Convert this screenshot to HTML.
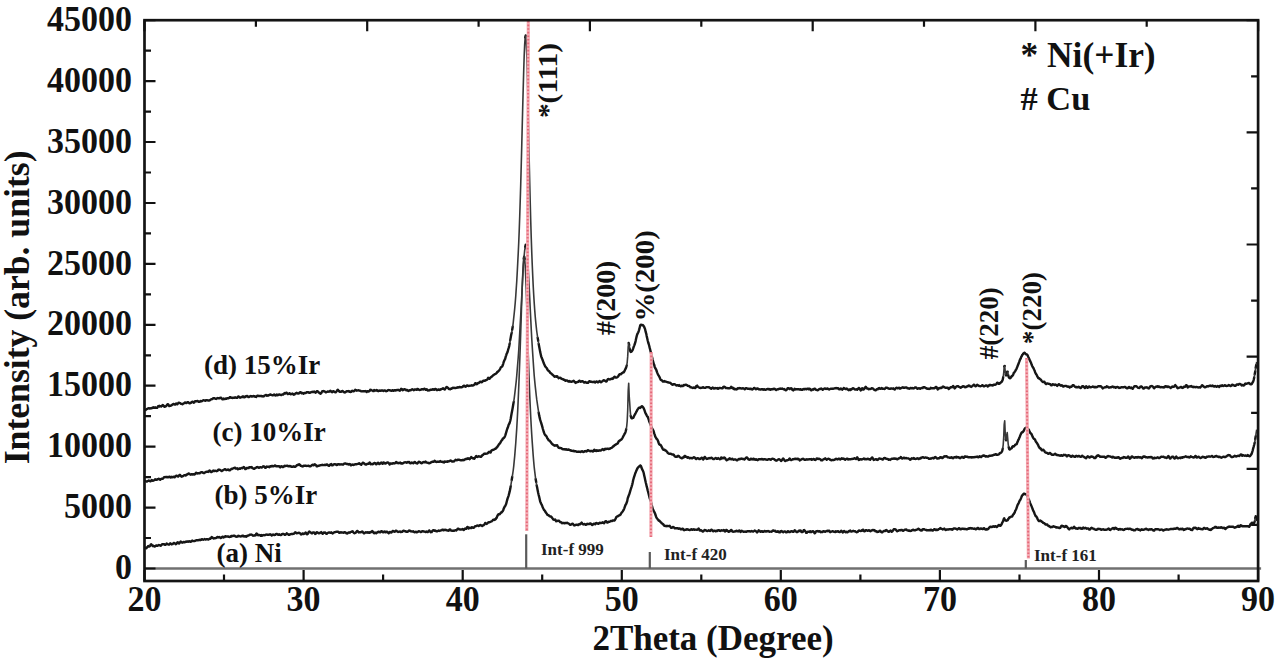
<!DOCTYPE html>
<html><head><meta charset="utf-8"><title>XRD</title>
<style>html,body{margin:0;padding:0;background:#fff;width:1280px;height:662px;overflow:hidden}svg{display:block}</style>
</head><body>
<svg width="1280" height="662" viewBox="0 0 1280 662">
<rect width="1280" height="662" fill="#fff"/>
<line x1="144.5" y1="568.5" x2="1261.1" y2="568.5" stroke="#707070" stroke-width="2.4"/>
<line x1="526.2" y1="534.3" x2="526.2" y2="568.5" stroke="#5a5a5a" stroke-width="2.2"/>
<line x1="649.8" y1="552.0" x2="649.8" y2="568.5" stroke="#5a5a5a" stroke-width="2.2"/>
<line x1="1025.8" y1="560.0" x2="1025.8" y2="568.5" stroke="#5a5a5a" stroke-width="2.2"/>
<path d="M145.7,547.7 146.2,548.3 146.7,547.8 147.2,547.1 147.7,546.6 148.2,546.0 148.7,546.5 149.2,546.5 149.7,546.4 150.2,545.6 150.7,544.6 151.2,544.3 151.7,545.0 152.2,545.3 152.7,546.0 153.2,545.7 153.7,546.2 154.2,546.2 154.7,546.6 155.2,546.1 155.7,545.8 156.2,545.4 156.7,545.7 157.2,545.9 157.7,545.7 158.2,545.5 158.7,545.0 159.2,545.1 159.7,545.3 160.2,545.4 160.7,545.7 161.2,545.3 161.7,544.7 162.2,544.3 162.7,544.3 163.2,544.1 163.7,544.2 164.2,544.1 164.7,544.7 165.2,544.8 165.7,544.6 166.2,544.3 166.7,543.5 167.2,543.8 167.7,544.0 168.2,544.5 168.7,544.6 169.2,544.5 169.7,544.1 170.2,543.3 170.7,543.5 171.2,544.0 171.7,544.4 172.2,544.0 172.7,544.0 173.2,543.6 173.7,543.0 174.2,542.9 174.7,543.3 175.2,543.6 175.7,544.2 176.2,543.9 176.7,543.5 177.2,542.6 177.7,542.3 178.2,542.7 178.7,543.4 179.2,543.6 179.7,542.5 180.2,542.1 180.7,541.4 181.2,542.3 181.7,542.2 182.2,542.7 182.7,542.5 183.2,541.9 183.7,541.9 184.2,542.3 184.7,542.4 185.2,541.9 185.7,541.7 186.2,541.8 186.7,541.9 187.2,541.5 187.7,541.4 188.2,541.7 188.7,541.6 189.2,541.3 189.7,541.4 190.2,541.7 190.7,541.9 191.2,541.4 191.7,541.0 192.2,540.5 192.7,541.0 193.2,541.1 193.7,541.1 194.2,541.0 194.7,541.0 195.2,540.9 195.7,540.5 196.2,540.2 196.7,540.4 197.2,540.3 197.7,540.3 198.2,540.3 198.7,540.0 199.2,540.0 199.7,539.7 200.2,540.2 200.7,539.7 201.2,539.9 201.7,539.2 202.2,539.3 202.7,539.4 203.2,539.8 203.7,539.5 204.2,539.3 204.7,539.0 205.2,539.5 205.7,539.5 206.2,539.4 206.7,539.1 207.2,539.1 207.7,539.4 208.2,539.5 208.7,539.5 209.2,539.0 209.7,538.5 210.2,538.8 210.7,538.3 211.2,537.8 211.7,537.0 212.2,537.4 212.7,537.9 213.2,538.2 213.7,538.5 214.2,538.4 214.7,538.2 215.2,538.0 215.7,538.2 216.2,538.0 216.7,537.5 217.2,536.9 217.7,537.1 218.2,537.5 218.7,537.3 219.2,537.0 219.7,537.3 220.2,537.6 220.7,538.0 221.2,537.9 221.7,537.5 222.2,536.8 222.7,536.6 223.2,536.8 223.7,537.4 224.2,536.9 224.7,537.0 225.2,536.3 225.7,536.3 226.2,536.5 226.7,536.4 227.2,536.5 227.7,536.4 228.2,536.7 228.7,536.9 229.2,536.6 229.7,537.0 230.2,536.8 230.7,536.8 231.2,535.9 231.7,536.3 232.2,535.9 232.7,536.1 233.2,535.8 233.7,535.6 234.2,535.6 234.7,535.9 235.2,536.3 235.7,536.6 236.2,536.5 236.7,536.8 237.2,536.5 237.7,536.5 238.2,535.8 238.7,536.0 239.2,536.0 239.7,536.3 240.2,536.4 240.7,536.5 241.2,536.3 241.7,536.2 242.2,535.8 242.7,535.7 243.2,535.8 243.7,536.4 244.2,536.5 244.7,536.4 245.2,536.1 245.7,536.3 246.2,536.7 246.7,536.4 247.2,535.6 247.7,535.7 248.2,535.6 248.7,535.3 249.2,535.1 249.7,534.8 250.2,534.7 250.7,534.6 251.2,534.5 251.7,534.7 252.2,535.0 252.7,535.6 253.2,535.7 253.7,535.5 254.2,535.3 254.7,535.6 255.2,535.4 255.7,535.3 256.2,533.8 256.7,533.5 257.2,534.0 257.7,534.9 258.2,535.3 258.7,535.0 259.2,535.0 259.7,535.1 260.2,535.3 260.7,535.7 261.2,535.0 261.7,535.8 262.2,535.6 262.7,535.3 263.2,535.2 263.7,535.0 264.2,535.2 264.7,535.1 265.2,535.1 265.7,534.6 266.2,534.7 266.7,534.5 267.2,534.6 267.7,534.8 268.2,534.7 268.7,534.8 269.2,534.6 269.7,534.5 270.2,534.2 270.7,534.8 271.2,534.9 271.7,535.5 272.2,534.7 272.7,534.8 273.2,534.5 273.7,534.7 274.2,535.1 274.7,534.9 275.2,534.8 275.7,534.3 276.2,533.9 276.7,533.9 277.2,534.1 277.7,534.5 278.2,534.9 278.7,534.6 279.2,534.2 279.7,534.9 280.2,534.9 280.7,535.1 281.2,534.9 281.7,534.3 282.2,534.2 282.7,533.9 283.2,533.9 283.7,534.0 284.2,534.3 284.7,534.7 285.2,534.8 285.7,534.4 286.2,534.1 286.7,533.3 287.2,533.7 287.7,534.0 288.2,534.4 288.7,534.8 289.2,534.6 289.7,534.7 290.2,534.2 290.7,534.2 291.2,534.0 291.7,533.9 292.2,534.0 292.7,534.0 293.2,533.7 293.7,533.9 294.2,533.4 294.7,533.2 295.2,532.3 295.7,532.7 296.2,532.6 296.7,533.3 297.2,533.1 297.7,533.1 298.2,533.0 298.7,532.7 299.2,532.9 299.7,532.9 300.2,533.5 300.7,534.1 301.2,534.5 301.7,534.3 302.2,533.6 302.7,533.4 303.2,533.6 303.7,534.0 304.2,533.7 304.7,533.6 305.2,532.9 305.7,532.5 306.2,533.2 306.7,534.1 307.2,534.3 307.7,534.0 308.2,533.1 308.7,532.1 309.2,531.6 309.7,531.9 310.2,532.2 310.7,532.5 311.2,532.9 311.7,533.4 312.2,533.4 312.7,532.6 313.2,532.4 313.7,532.4 314.2,532.7 314.7,532.7 315.2,534.0 315.7,533.6 316.2,533.3 316.7,532.3 317.2,532.6 317.7,532.5 318.2,533.1 318.7,533.2 319.2,533.2 319.7,533.1 320.2,532.6 320.7,532.5 321.2,532.0 321.7,533.0 322.2,533.3 322.7,533.8 323.2,533.1 323.7,532.4 324.2,532.8 324.7,532.4 325.2,532.5 325.7,533.0 326.2,533.7 326.7,533.9 327.2,533.3 327.7,533.0 328.2,532.7 328.7,532.5 329.2,532.4 329.7,532.6 330.2,532.7 330.7,532.8 331.2,532.3 331.7,532.9 332.2,533.1 332.7,533.4 333.2,532.8 333.7,532.6 334.2,532.4 334.7,532.2 335.2,532.1 335.7,531.9 336.2,531.9 336.7,531.8 337.2,531.8 337.7,531.7 338.2,531.9 338.7,532.0 339.2,532.7 339.7,532.7 340.2,532.6 340.7,532.3 341.2,532.6 341.7,532.5 342.2,532.5 342.7,532.6 343.2,532.6 343.7,532.7 344.2,532.3 344.7,532.2 345.2,532.4 345.7,532.6 346.2,533.1 346.7,533.4 347.2,533.5 347.7,533.2 348.2,532.6 348.7,532.5 349.2,532.5 349.7,532.7 350.2,532.3 350.7,532.0 351.2,531.8 351.7,531.9 352.2,531.6 352.7,531.3 353.2,532.2 353.7,532.7 354.2,533.1 354.7,533.2 355.2,533.0 355.7,532.7 356.2,532.1 356.7,531.4 357.2,530.9 357.7,531.1 358.2,532.0 358.7,532.5 359.2,532.4 359.7,532.2 360.2,532.4 360.7,532.3 361.2,532.1 361.7,531.7 362.2,531.5 362.7,531.8 363.2,532.6 363.7,533.3 364.2,533.4 364.7,532.8 365.2,532.6 365.7,532.3 366.2,532.5 366.7,532.5 367.2,532.6 367.7,532.3 368.2,532.7 368.7,532.4 369.2,532.3 369.7,532.7 370.2,532.1 370.7,532.2 371.2,531.7 371.7,531.9 372.2,531.0 372.7,531.6 373.2,531.8 373.7,533.0 374.2,533.3 374.7,533.0 375.2,532.6 375.7,533.0 376.2,533.2 376.7,532.8 377.2,532.3 377.7,532.3 378.2,531.6 378.7,531.8 379.2,531.9 379.7,532.2 380.2,532.3 380.7,531.8 381.2,531.2 381.7,531.1 382.2,531.7 382.7,532.2 383.2,532.4 383.7,532.2 384.2,531.6 384.7,531.9 385.2,531.8 385.7,532.3 386.2,531.8 386.7,531.8 387.2,531.7 387.7,532.4 388.2,532.7 388.7,533.3 389.2,532.7 389.7,532.0 390.2,532.0 390.7,532.4 391.2,532.6 391.7,532.2 392.2,531.6 392.7,531.0 393.2,530.9 393.7,531.5 394.2,531.6 394.7,531.7 395.2,531.3 395.7,530.7 396.2,530.6 396.7,531.2 397.2,531.4 397.7,531.7 398.2,532.0 398.7,531.8 399.2,531.6 399.7,531.6 400.2,531.4 400.7,532.1 401.2,532.0 401.7,531.8 402.2,531.8 402.7,531.1 403.2,530.9 403.7,530.7 404.2,531.0 404.7,531.0 405.2,531.4 405.7,531.3 406.2,531.7 406.7,531.8 407.2,531.9 407.7,531.7 408.2,531.3 408.7,530.8 409.2,530.4 409.7,530.8 410.2,530.8 410.7,531.3 411.2,531.3 411.7,531.5 412.2,531.4 412.7,531.5 413.2,531.3 413.7,531.7 414.2,532.1 414.7,532.2 415.2,532.1 415.7,531.8 416.2,531.8 416.7,532.3 417.2,532.1 417.7,531.9 418.2,531.7 418.7,531.2 419.2,531.2 419.7,531.5 420.2,531.7 420.7,532.1 421.2,531.9 421.7,531.7 422.2,531.1 422.7,531.2 423.2,531.2 423.7,531.5 424.2,531.5 424.7,531.7 425.2,531.9 425.7,532.1 426.2,531.6 426.7,531.5 427.2,531.8 427.7,532.1 428.2,531.6 428.7,531.3 429.2,530.4 429.7,531.1 430.2,531.3 430.7,532.2 431.2,531.9 431.7,532.0 432.2,531.2 432.7,530.7 433.2,530.3 433.7,530.2 434.2,530.4 434.7,530.8 435.2,530.5 435.7,530.9 436.2,531.2 436.7,531.3 437.2,531.3 437.7,530.9 438.2,530.8 438.7,530.4 439.2,531.0 439.7,530.8 440.2,530.6 440.7,530.4 441.2,530.4 441.7,530.4 442.2,529.7 442.7,529.6 443.2,529.6 443.7,530.3 444.2,530.0 444.7,530.1 445.2,529.8 445.7,529.9 446.2,530.0 446.7,530.1 447.2,530.5 447.7,530.5 448.2,530.4 448.7,530.7 449.2,529.8 449.7,529.5 450.2,529.4 450.7,530.4 451.2,530.5 451.7,530.7 452.2,530.7 452.7,530.6 453.2,530.8 453.7,530.9 454.2,530.6 454.7,530.5 455.2,530.3 455.7,530.3 456.2,530.5 456.7,530.1 457.2,529.5 457.7,528.6 458.2,528.6 458.7,528.8 459.2,529.3 459.7,529.5 460.2,529.5 460.7,529.4 461.2,529.5 461.7,529.4 462.2,529.4 462.7,529.0 463.2,529.7 463.7,530.0 464.2,529.7 464.7,528.9 465.2,528.5 465.7,528.8 466.2,528.9 466.7,528.2 467.2,527.1 467.7,526.9 468.2,527.8 468.7,528.6 469.2,527.9 469.7,527.8 470.2,527.9 470.7,528.0 471.2,528.0 471.7,527.2 472.2,527.4 472.7,527.4 473.2,527.9 473.7,527.8 474.2,527.5 474.7,526.6 475.2,526.2 475.7,526.1 476.2,526.1 476.7,525.9 477.2,525.5 477.7,525.6 478.2,525.6 478.7,526.0 479.2,525.7 479.7,525.3 480.2,525.3 480.7,524.9 481.2,525.5 481.7,525.6 482.2,526.0 482.7,525.6 483.2,525.1 483.7,525.2 484.2,524.6 484.7,524.1 485.2,522.9 485.7,523.3 486.2,523.4 486.7,523.9 487.2,523.3 487.7,523.1 488.2,522.5 488.7,522.1 489.2,522.1 489.7,522.2 490.2,522.0 490.7,521.7 491.2,521.5 491.7,521.3 492.2,520.9 492.7,520.3 493.2,519.6 493.7,519.7 494.2,519.7 494.7,519.9 495.2,519.0 495.7,519.1 496.2,518.1 496.7,517.8 497.2,516.2 497.7,515.5 498.2,514.4 498.7,514.3 499.2,514.3 499.7,514.2 500.2,513.5 500.7,513.1 501.2,512.3 501.7,512.4 502.2,511.6 502.7,511.3 503.2,510.3 503.7,508.6 504.2,507.7 504.7,506.5 505.2,506.1 505.7,504.9 506.2,503.8 506.7,501.7 507.2,499.9 507.7,498.2 508.2,496.8 508.7,495.3 509.2,493.4 509.7,491.4 510.2,489.1 510.7,486.2M511.7,480.0 512.2,477.0M523.7,258.7 524.2,256.6 524.7,258.9M535.7,479.3 536.2,482.1M536.7,485.4 537.2,487.8 537.7,490.4 538.2,492.9 538.7,495.1 539.2,497.0 539.7,499.3 540.2,501.4 540.7,502.8 541.2,503.8 541.7,504.7 542.2,505.9 542.7,507.2 543.2,508.3 543.7,509.3 544.2,510.2 544.7,510.5 545.2,511.5 545.7,512.3 546.2,513.0 546.7,513.6 547.2,514.7 547.7,514.9 548.2,515.2 548.7,515.4 549.2,515.9 549.7,516.2 550.2,516.5 550.7,516.4 551.2,516.6 551.7,517.3 552.2,518.0 552.7,518.6 553.2,519.4 553.7,519.7 554.2,519.9 554.7,519.8 555.2,519.6 555.7,520.5 556.2,521.2 556.7,521.1 557.2,521.0 557.7,520.7 558.2,520.8 558.7,520.7 559.2,520.9 559.7,521.7 560.2,522.2 560.7,522.2 561.2,522.3 561.7,522.5 562.2,523.2 562.7,523.0 563.2,522.9 563.7,522.9 564.2,523.1 564.7,523.4 565.2,523.0 565.7,522.9 566.2,523.1 566.7,523.0 567.2,522.8 567.7,523.1 568.2,523.3 568.7,523.5 569.2,524.0 569.7,524.4 570.2,524.9 570.7,524.7 571.2,524.6 571.7,524.0 572.2,523.9 572.7,523.7 573.2,524.1 573.7,524.9 574.2,525.5 574.7,525.3 575.2,525.1 575.7,524.9 576.2,524.8 576.7,524.6 577.2,524.7 577.7,525.0 578.2,525.1 578.7,524.6 579.2,524.1 579.7,524.4 580.2,524.3 580.7,523.7 581.2,523.2 581.7,522.6 582.2,523.4 582.7,524.0 583.2,524.5 583.7,524.3 584.2,524.0 584.7,524.1 585.2,524.4 585.7,524.8 586.2,524.7 586.7,524.5 587.2,523.8 587.7,524.1 588.2,524.1 588.7,524.0 589.2,524.0 589.7,523.6 590.2,523.4 590.7,523.5 591.2,524.2 591.7,524.7 592.2,525.0 592.7,524.7 593.2,524.3 593.7,523.6 594.2,523.8 594.7,523.9 595.2,524.3 595.7,523.4 596.2,523.1 596.7,523.0 597.2,523.6 597.7,523.5 598.2,523.8 598.7,523.3 599.2,523.4 599.7,522.7 600.2,522.9 600.7,523.0 601.2,523.0 601.7,522.7 602.2,522.9 602.7,522.3 603.2,522.6 603.7,523.1 604.2,523.2 604.7,522.4 605.2,521.5 605.7,521.1 606.2,521.4 606.7,521.9 607.2,522.6 607.7,522.5 608.2,522.2 608.7,521.7 609.2,521.8 609.7,521.7 610.2,521.5 610.7,521.0 611.2,520.9 611.7,521.1 612.2,521.0 612.7,520.5 613.2,520.4 613.7,520.5 614.2,520.6 614.7,520.3 615.2,519.4 615.7,518.6 616.2,517.3 616.7,516.6 617.2,516.5 617.7,516.4 618.2,515.9 618.7,515.7 619.2,515.4 619.7,515.2 620.2,514.8 620.7,514.3 621.2,513.3 621.7,512.5 622.2,512.0 622.7,511.5 623.2,510.5 623.7,509.8 624.2,508.6 624.7,507.1 625.2,505.8 625.7,504.5 626.2,503.9 626.7,502.5 627.2,501.1 627.7,498.4 628.2,497.0 628.7,495.6 629.2,494.5 629.7,492.8 630.2,491.1 630.7,489.5 631.2,487.8 631.7,486.3 632.2,484.6 632.7,482.5 633.2,480.0 633.7,478.2 634.2,476.7 634.7,475.1 635.2,473.5 635.7,472.3 636.2,471.0 636.7,469.9 637.2,468.9 637.7,467.8 638.2,467.3 638.7,466.8 639.2,466.4 639.7,466.1 640.2,465.4 640.7,465.7 641.2,466.6 641.7,468.3 642.2,469.4 642.7,470.3 643.2,471.4 643.7,473.0 644.2,475.4 644.7,477.6 645.2,479.9 645.7,482.2 646.2,484.2 646.7,486.4 647.2,488.2 647.7,490.5 648.2,492.2 648.7,494.1 649.2,496.1 649.7,498.3 650.2,499.4 650.7,501.0 651.2,502.8 651.7,505.0 652.2,506.8 652.7,508.8 653.2,509.8 653.7,511.0 654.2,511.7 654.7,512.7 655.2,514.0 655.7,515.5 656.2,516.9 656.7,518.0 657.2,518.5 657.7,519.4 658.2,519.7 658.7,520.6 659.2,520.5 659.7,521.2 660.2,521.7 660.7,522.2 661.2,522.5 661.7,523.3 662.2,523.4 662.7,524.1 663.2,524.2 663.7,525.1 664.2,525.6 664.7,525.9 665.2,526.0 665.7,525.9 666.2,526.0 666.7,526.2 667.2,525.9 667.7,526.0 668.2,526.1 668.7,526.1 669.2,526.0 669.7,525.8 670.2,526.6 670.7,527.3 671.2,527.9 671.7,527.8 672.2,527.3 672.7,527.1 673.2,526.9 673.7,527.3 674.2,527.6 674.7,528.3 675.2,528.3 675.7,528.4 676.2,528.1 676.7,528.1 677.2,528.3 677.7,528.3 678.2,528.6 678.7,528.7 679.2,528.4 679.7,528.5 680.2,528.6 680.7,529.4 681.2,529.4 681.7,529.4 682.2,528.8 682.7,528.7 683.2,529.2 683.7,529.9 684.2,530.2 684.7,530.0 685.2,529.7 685.7,529.6 686.2,529.7 686.7,529.2 687.2,529.5 687.7,529.2 688.2,529.6 688.7,529.8 689.2,530.0 689.7,529.9 690.2,530.0 690.7,529.5 691.2,529.4 691.7,529.3 692.2,529.7 692.7,529.8 693.2,529.5 693.7,529.2 694.2,529.6 694.7,529.8 695.2,529.6 695.7,529.6 696.2,529.6 696.7,529.7 697.2,529.8 697.7,529.5 698.2,528.9 698.7,528.6 699.2,529.4 699.7,530.4 700.2,530.6 700.7,530.3 701.2,530.1 701.7,530.8 702.2,531.1 702.7,531.5 703.2,531.5 703.7,530.9 704.2,530.4 704.7,530.0 705.2,530.1 705.7,530.1 706.2,530.7 706.7,530.7 707.2,531.1 707.7,530.6 708.2,530.6 708.7,530.3 709.2,530.7 709.7,530.6 710.2,530.9 710.7,530.4 711.2,529.7 711.7,529.7 712.2,530.4 712.7,530.8 713.2,531.2 713.7,530.6 714.2,530.6 714.7,530.7 715.2,531.1 715.7,531.3 716.2,530.9 716.7,530.6 717.2,531.0 717.7,530.7 718.2,530.2 718.7,530.1 719.2,530.4 719.7,530.8 720.2,531.0 720.7,530.7 721.2,530.4 721.7,530.3 722.2,530.6 722.7,530.6 723.2,530.5 723.7,529.9 724.2,530.4 724.7,531.2 725.2,531.6 725.7,531.0 726.2,530.0 726.7,529.9 727.2,530.6 727.7,531.1 728.2,531.4 728.7,531.8 729.2,531.3 729.7,531.5 730.2,530.9 730.7,530.4 731.2,529.9 731.7,530.4 732.2,531.4 732.7,531.6 733.2,531.7 733.7,531.6 734.2,531.5 734.7,531.6 735.2,531.4 735.7,531.1 736.2,530.9 736.7,530.8 737.2,531.2 737.7,531.3 738.2,531.5 738.7,530.9 739.2,530.5 739.7,530.6 740.2,531.6 740.7,532.0 741.2,531.5 741.7,530.7 742.2,531.1 742.7,531.1 743.2,531.7 743.7,531.7 744.2,531.7 744.7,531.6 745.2,531.5 745.7,531.8 746.2,531.6 746.7,531.7 747.2,531.2 747.7,531.3 748.2,531.1 748.7,531.3 749.2,531.1 749.7,531.2 750.2,531.6 750.7,531.5 751.2,531.3 751.7,531.0 752.2,531.3 752.7,531.5 753.2,531.6 753.7,531.1 754.2,531.1 754.7,530.5 755.2,530.9 755.7,530.9 756.2,531.6 756.7,531.8 757.2,532.4 757.7,531.7 758.2,531.2 758.7,530.3 759.2,530.5 759.7,531.3 760.2,531.3 760.7,531.7 761.2,531.3 761.7,531.5 762.2,531.3 762.7,531.7 763.2,531.8 763.7,531.7 764.2,531.1 764.7,530.9 765.2,531.4 765.7,531.5 766.2,531.6 766.7,531.2 767.2,531.4 767.7,531.1 768.2,531.0 768.7,531.2 769.2,531.7 769.7,531.7 770.2,531.6 770.7,531.6 771.2,531.6 771.7,531.7 772.2,531.2 772.7,530.6 773.2,530.4 773.7,530.7 774.2,530.9 774.7,531.1 775.2,530.7 775.7,531.5 776.2,531.9 776.7,531.8 777.2,531.9 777.7,531.3 778.2,531.4 778.7,531.6 779.2,532.4 779.7,532.4 780.2,532.1 780.7,531.2 781.2,531.1 781.7,531.0 782.2,531.6 782.7,531.9 783.2,532.2 783.7,531.8 784.2,531.5 784.7,531.4 785.2,531.4 785.7,532.2 786.2,532.3 786.7,532.4 787.2,531.9 787.7,531.2 788.2,531.3 788.7,531.8 789.2,532.1 789.7,532.1 790.2,531.8 790.7,531.7 791.2,531.1 791.7,531.1 792.2,531.1 792.7,531.8 793.2,531.9 793.7,531.6 794.2,530.9 794.7,530.2 795.2,530.6 795.7,531.2 796.2,531.8 796.7,532.1 797.2,532.1 797.7,531.6 798.2,531.5 798.7,530.7 799.2,531.1 799.7,530.4 800.2,530.9 800.7,530.6 801.2,531.6 801.7,532.1 802.2,532.1 802.7,531.9 803.2,531.3 803.7,530.2 804.2,530.0 804.7,530.5 805.2,531.0 805.7,531.9 806.2,532.9 806.7,532.9 807.2,532.4 807.7,531.7 808.2,531.7 808.7,531.8 809.2,531.7 809.7,532.0 810.2,531.3 810.7,532.0 811.2,531.7 811.7,532.1 812.2,531.5 812.7,531.2 813.2,531.1 813.7,531.8 814.2,532.5 814.7,533.3 815.2,532.8 815.7,531.9 816.2,531.2 816.7,531.2 817.2,531.2 817.7,531.0 818.2,531.4 818.7,531.6 819.2,531.3 819.7,531.2 820.2,531.7 820.7,532.2 821.2,532.0 821.7,532.0 822.2,532.1 822.7,531.8 823.2,531.3 823.7,531.2 824.2,531.4 824.7,531.6 825.2,531.8 825.7,531.4 826.2,531.3 826.7,531.0 827.2,530.7 827.7,531.2 828.2,531.0 828.7,530.7 829.2,530.8 829.7,531.7 830.2,532.2 830.7,532.0 831.2,531.7 831.7,531.5 832.2,531.3 832.7,531.2 833.2,531.6 833.7,531.4 834.2,532.0 834.7,531.8 835.2,532.0 835.7,531.2 836.2,531.8 836.7,531.5 837.2,531.6 837.7,531.1 838.2,531.2 838.7,531.8 839.2,532.0 839.7,532.1 840.2,531.9 840.7,531.5 841.2,530.8 841.7,531.2 842.2,531.6 842.7,532.4 843.2,532.1 843.7,531.3 844.2,530.9 844.7,531.6 845.2,531.8 845.7,532.2 846.2,531.7 846.7,532.2 847.2,532.1 847.7,532.2 848.2,531.6 848.7,531.4 849.2,530.9 849.7,531.2 850.2,530.5 850.7,531.4 851.2,531.5 851.7,531.5 852.2,531.4 852.7,531.0 853.2,530.8 853.7,531.0 854.2,531.3 854.7,531.3 855.2,531.3 855.7,531.7 856.2,532.0 856.7,532.3 857.2,532.0 857.7,531.9 858.2,531.0 858.7,530.7 859.2,530.4 859.7,530.8 860.2,530.9 860.7,531.0 861.2,530.6 861.7,530.8 862.2,529.9 862.7,529.9 863.2,529.7 863.7,531.0 864.2,531.3 864.7,531.2 865.2,530.9 865.7,530.2 866.2,530.1 866.7,530.2 867.2,530.8 867.7,530.7 868.2,530.6 868.7,530.3 869.2,530.3 869.7,530.9 870.2,531.1 870.7,531.2 871.2,530.7 871.7,530.5 872.2,530.0 872.7,530.1 873.2,530.3 873.7,530.0 874.2,530.1 874.7,530.4 875.2,531.2 875.7,531.0 876.2,531.3 876.7,531.4 877.2,532.1 877.7,531.7 878.2,531.8 878.7,531.6 879.2,531.2 879.7,530.8 880.2,530.6 880.7,531.3 881.2,532.1 881.7,532.2 882.2,532.4 882.7,531.8 883.2,531.5 883.7,530.9 884.2,531.0 884.7,531.1 885.2,531.0 885.7,530.3 886.2,530.0 886.7,530.3 887.2,530.8 887.7,531.2 888.2,531.7 888.7,531.4 889.2,531.7 889.7,531.1 890.2,530.8 890.7,530.5 891.2,531.4 891.7,531.8 892.2,531.5 892.7,530.9 893.2,530.1 893.7,529.3 894.2,529.3 894.7,529.1 895.2,529.3 895.7,529.6 896.2,530.2 896.7,530.8 897.2,531.2 897.7,530.9 898.2,530.8 898.7,530.4 899.2,530.3 899.7,530.4 900.2,530.2 900.7,530.2 901.2,529.9 901.7,529.9 902.2,530.2 902.7,530.8 903.2,530.7 903.7,530.3 904.2,530.1 904.7,529.8 905.2,529.7 905.7,529.6 906.2,529.4 906.7,529.9 907.2,530.3 907.7,530.5 908.2,530.4 908.7,530.7 909.2,530.4 909.7,530.9 910.2,531.0 910.7,530.9 911.2,530.9 911.7,530.2 912.2,530.2 912.7,529.9 913.2,529.8 913.7,529.9 914.2,530.3 914.7,530.4 915.2,530.4 915.7,530.0 916.2,529.9 916.7,529.8 917.2,529.5 917.7,529.3 918.2,528.7 918.7,528.9 919.2,529.3 919.7,529.7 920.2,530.2 920.7,530.1 921.2,530.6 921.7,529.9 922.2,530.3 922.7,529.4 923.2,529.2 923.7,529.1 924.2,529.2 924.7,529.5 925.2,529.8 925.7,530.0 926.2,530.2 926.7,529.9 927.2,530.3 927.7,530.2 928.2,530.2 928.7,530.4 929.2,530.2 929.7,530.4 930.2,529.8 930.7,530.2 931.2,529.8 931.7,530.2 932.2,530.1 932.7,530.6 933.2,530.3 933.7,529.9 934.2,529.2 934.7,529.1 935.2,529.7 935.7,530.1 936.2,530.0 936.7,529.5 937.2,530.1 937.7,529.7 938.2,529.8 938.7,529.2 939.2,529.0 939.7,528.8 940.2,528.1 940.7,528.4 941.2,528.6 941.7,528.9 942.2,528.9 942.7,529.5 943.2,529.2 943.7,529.0 944.2,528.6 944.7,529.2 945.2,529.7 945.7,530.0 946.2,529.9 946.7,529.5 947.2,529.4 947.7,529.5 948.2,529.6 948.7,529.4 949.2,529.3 949.7,529.3 950.2,529.3 950.7,529.3 951.2,529.3 951.7,529.3 952.2,529.7 952.7,529.4 953.2,528.8 953.7,528.5 954.2,528.4 954.7,528.5 955.2,528.5 955.7,528.8 956.2,528.9 956.7,528.9 957.2,529.5 957.7,529.1 958.2,528.9 958.7,528.1 959.2,528.2 959.7,528.5 960.2,529.2 960.7,529.3 961.2,529.1 961.7,528.8 962.2,528.8 962.7,528.6 963.2,528.8 963.7,529.0 964.2,528.8 964.7,529.1 965.2,528.9 965.7,529.0 966.2,529.1 966.7,529.4 967.2,529.3 967.7,529.0 968.2,528.4 968.7,528.7 969.2,528.7 969.7,528.2 970.2,528.0 970.7,528.2 971.2,528.6 971.7,528.3 972.2,528.6 972.7,528.5 973.2,528.7 973.7,528.7 974.2,528.5 974.7,528.6 975.2,528.9 975.7,529.4 976.2,529.2 976.7,528.9 977.2,528.1 977.7,528.0 978.2,528.0 978.7,528.8 979.2,529.1 979.7,529.1 980.2,528.8 980.7,528.5 981.2,528.4 981.7,528.8 982.2,528.8 982.7,529.1 983.2,528.9 983.7,528.2 984.2,528.3 984.7,529.0 985.2,529.4 985.7,529.6 986.2,529.5 986.7,529.1 987.2,529.5 987.7,529.3 988.2,529.0 988.7,528.3 989.2,527.6 989.7,527.1 990.2,526.7 990.7,526.9 991.2,527.0 991.7,527.1 992.2,526.9 992.7,526.4 993.2,526.6 993.7,526.3 994.2,526.7 994.7,526.7 995.2,526.2 995.7,526.3 996.2,526.6 996.7,527.1 997.2,526.7 997.7,526.2 998.2,525.7 998.7,525.0 999.2,525.0 999.7,525.6 1000.2,525.8 1000.7,525.6 1001.2,524.8 1001.7,524.0 1002.2,522.7 1002.7,521.9 1003.2,520.9 1003.7,519.2 1004.2,518.3 1004.7,519.6 1005.2,520.1 1005.7,520.6 1006.2,520.6 1006.7,520.7 1007.2,520.2 1007.7,520.2 1008.2,519.0 1008.7,518.6 1009.2,517.6 1009.7,517.3 1010.2,517.3 1010.7,516.8 1011.2,516.6 1011.7,516.5 1012.2,516.5 1012.7,515.3 1013.2,514.5 1013.7,514.1 1014.2,513.1 1014.7,512.6 1015.2,510.9 1015.7,510.0 1016.2,509.0 1016.7,507.6 1017.2,506.1 1017.7,504.7 1018.2,504.0 1018.7,503.0 1019.2,501.8 1019.7,500.6 1020.2,500.0 1020.7,498.9 1021.2,497.7 1021.7,496.4 1022.2,495.4 1022.7,495.0 1023.2,494.3 1023.7,493.8 1024.2,493.7 1024.7,493.9 1025.2,494.2 1025.7,494.2 1026.2,494.3 1026.7,494.7 1027.2,495.8 1027.7,496.9 1028.2,498.2 1028.7,499.2 1029.2,500.3 1029.7,501.7 1030.2,503.1 1030.7,504.3 1031.2,505.4 1031.7,506.6 1032.2,507.9 1032.7,509.3 1033.2,510.6 1033.7,511.5 1034.2,512.6 1034.7,514.0 1035.2,515.1 1035.7,516.1 1036.2,516.3 1036.7,517.3 1037.2,518.0 1037.7,519.3 1038.2,520.1 1038.7,521.0 1039.2,520.7 1039.7,521.0 1040.2,520.4 1040.7,521.0 1041.2,520.9 1041.7,521.6 1042.2,521.9 1042.7,522.3 1043.2,522.9 1043.7,523.0 1044.2,523.2 1044.7,523.7 1045.2,524.2 1045.7,524.6 1046.2,524.5 1046.7,524.4 1047.2,524.5 1047.7,525.3 1048.2,525.7 1048.7,526.0 1049.2,526.0 1049.7,526.7 1050.2,526.9 1050.7,527.3 1051.2,526.9 1051.7,527.1 1052.2,527.1 1052.7,526.7 1053.2,526.4 1053.7,526.3 1054.2,526.5 1054.7,526.8 1055.2,527.0 1055.7,526.9 1056.2,527.6 1056.7,527.2 1057.2,527.6 1057.7,527.4 1058.2,527.6 1058.7,527.7 1059.2,528.0 1059.7,528.0 1060.2,527.9 1060.7,526.9 1061.2,526.1 1061.7,525.8 1062.2,525.8 1062.7,526.4 1063.2,526.2 1063.7,526.4 1064.2,527.0 1064.7,527.0 1065.2,526.8 1065.7,525.9 1066.2,526.1 1066.7,526.3 1067.2,527.2 1067.7,527.7 1068.2,528.5 1068.7,529.0 1069.2,529.5 1069.7,528.7 1070.2,528.5 1070.7,528.2 1071.2,527.9 1071.7,527.8 1072.2,528.3 1072.7,528.4 1073.2,528.0 1073.7,527.2 1074.2,526.8 1074.7,527.4 1075.2,528.2 1075.7,528.5 1076.2,528.2 1076.7,528.5 1077.2,528.8 1077.7,528.8 1078.2,528.1 1078.7,527.9 1079.2,528.0 1079.7,527.9 1080.2,528.4 1080.7,527.9 1081.2,528.5 1081.7,528.8 1082.2,528.7 1082.7,528.4 1083.2,527.6 1083.7,528.1 1084.2,528.2 1084.7,528.3 1085.2,527.8 1085.7,528.0 1086.2,528.1 1086.7,528.7 1087.2,528.4 1087.7,528.4 1088.2,528.5 1088.7,528.9 1089.2,529.6 1089.7,529.6 1090.2,529.1 1090.7,528.4 1091.2,528.0 1091.7,527.7 1092.2,528.3 1092.7,528.5 1093.2,528.6 1093.7,528.6 1094.2,529.2 1094.7,529.4 1095.2,529.5 1095.7,529.8 1096.2,529.6 1096.7,529.8 1097.2,529.1 1097.7,529.0 1098.2,528.7 1098.7,529.0 1099.2,528.9 1099.7,529.0 1100.2,529.0 1100.7,529.2 1101.2,529.9 1101.7,529.8 1102.2,529.5 1102.7,529.4 1103.2,529.3 1103.7,529.4 1104.2,529.9 1104.7,529.9 1105.2,529.8 1105.7,529.7 1106.2,529.7 1106.7,529.6 1107.2,529.4 1107.7,529.1 1108.2,528.8 1108.7,528.5 1109.2,529.1 1109.7,529.8 1110.2,530.0 1110.7,529.6 1111.2,529.1 1111.7,529.1 1112.2,528.5 1112.7,528.1 1113.2,528.0 1113.7,528.2 1114.2,529.1 1114.7,528.7 1115.2,527.8 1115.7,527.9 1116.2,528.1 1116.7,528.9 1117.2,528.8 1117.7,529.1 1118.2,529.5 1118.7,529.8 1119.2,529.2 1119.7,529.1 1120.2,528.9 1120.7,529.5 1121.2,529.4 1121.7,529.4 1122.2,529.2 1122.7,529.8 1123.2,529.7 1123.7,530.0 1124.2,529.8 1124.7,529.2 1125.2,529.0 1125.7,529.0 1126.2,528.9 1126.7,528.9 1127.2,528.9 1127.7,528.6 1128.2,528.9 1128.7,529.1 1129.2,528.9 1129.7,528.7 1130.2,528.6 1130.7,529.0 1131.2,529.4 1131.7,529.7 1132.2,529.9 1132.7,529.8 1133.2,529.8 1133.7,530.3 1134.2,530.4 1134.7,530.4 1135.2,530.1 1135.7,529.5 1136.2,529.2 1136.7,529.4 1137.2,528.9 1137.7,529.2 1138.2,529.7 1138.7,529.5 1139.2,529.9 1139.7,529.7 1140.2,530.4 1140.7,529.9 1141.2,529.8 1141.7,529.3 1142.2,529.7 1142.7,529.7 1143.2,529.6 1143.7,529.7 1144.2,529.5 1144.7,529.5 1145.2,529.0 1145.7,528.9 1146.2,528.8 1146.7,529.2 1147.2,529.3 1147.7,529.5 1148.2,530.0 1148.7,529.6 1149.2,529.5 1149.7,529.3 1150.2,529.6 1150.7,529.4 1151.2,529.2 1151.7,529.3 1152.2,529.7 1152.7,529.9 1153.2,530.5 1153.7,530.5 1154.2,530.6 1154.7,529.7 1155.2,529.4 1155.7,529.2 1156.2,529.2 1156.7,529.4 1157.2,529.3 1157.7,529.4 1158.2,529.1 1158.7,529.5 1159.2,529.7 1159.7,530.0 1160.2,529.7 1160.7,529.7 1161.2,529.5 1161.7,529.6 1162.2,529.7 1162.7,530.2 1163.2,530.5 1163.7,530.6 1164.2,530.0 1164.7,529.9 1165.2,529.6 1165.7,529.6 1166.2,529.3 1166.7,529.4 1167.2,529.5 1167.7,529.5 1168.2,529.5 1168.7,529.7 1169.2,529.5 1169.7,529.3 1170.2,529.1 1170.7,529.0 1171.2,529.0 1171.7,529.1 1172.2,529.0 1172.7,528.9 1173.2,529.1 1173.7,528.8 1174.2,528.5 1174.7,528.7 1175.2,528.6 1175.7,528.8 1176.2,528.3 1176.7,528.2 1177.2,527.9 1177.7,528.1 1178.2,528.7 1178.7,529.0 1179.2,529.5 1179.7,528.9 1180.2,529.0 1180.7,528.8 1181.2,529.3 1181.7,529.0 1182.2,528.6 1182.7,528.9 1183.2,529.3 1183.7,530.0 1184.2,529.8 1184.7,529.3 1185.2,529.3 1185.7,529.2 1186.2,528.9 1186.7,528.6 1187.2,528.6 1187.7,528.5 1188.2,528.7 1188.7,528.6 1189.2,528.7 1189.7,528.7 1190.2,529.0 1190.7,529.7 1191.2,529.8 1191.7,530.0 1192.2,530.1 1192.7,529.2 1193.2,528.3 1193.7,527.7 1194.2,527.7 1194.7,528.1 1195.2,527.7 1195.7,527.7 1196.2,528.3 1196.7,528.7 1197.2,529.2 1197.7,528.4 1198.2,528.7 1198.7,528.1 1199.2,528.8 1199.7,528.7 1200.2,528.7 1200.7,529.1 1201.2,529.0 1201.7,529.2 1202.2,529.1 1202.7,529.2 1203.2,528.8 1203.7,528.1 1204.2,527.9 1204.7,528.1 1205.2,528.7 1205.7,528.9 1206.2,528.7 1206.7,528.4 1207.2,528.3 1207.7,528.7 1208.2,529.1 1208.7,529.5 1209.2,529.7 1209.7,529.7 1210.2,529.4 1210.7,529.9 1211.2,529.6 1211.7,529.1 1212.2,528.7 1212.7,528.4 1213.2,528.0 1213.7,527.8 1214.2,527.6 1214.7,527.4 1215.2,526.8 1215.7,527.4 1216.2,527.1 1216.7,527.7 1217.2,527.7 1217.7,527.8 1218.2,527.9 1218.7,527.5 1219.2,527.5 1219.7,527.7 1220.2,527.7 1220.7,527.4 1221.2,527.3 1221.7,527.4 1222.2,527.9 1222.7,528.1 1223.2,528.1 1223.7,527.8 1224.2,527.8 1224.7,528.5 1225.2,529.1 1225.7,528.8 1226.2,527.9 1226.7,527.8 1227.2,527.4 1227.7,527.3 1228.2,526.9 1228.7,526.7 1229.2,526.5 1229.7,526.8 1230.2,526.6 1230.7,526.7 1231.2,526.8 1231.7,526.9 1232.2,526.8 1232.7,526.8 1233.2,526.8 1233.7,527.2 1234.2,527.5 1234.7,527.7 1235.2,527.4 1235.7,527.1 1236.2,527.1 1236.7,527.0 1237.2,526.4 1237.7,526.1 1238.2,525.8 1238.7,526.9 1239.2,526.8 1239.7,526.7 1240.2,525.7 1240.7,525.2 1241.2,525.7 1241.7,525.8 1242.2,526.2 1242.7,526.1 1243.2,526.4 1243.7,526.2 1244.2,526.2 1244.7,526.2 1245.2,526.1 1245.7,526.1 1246.2,526.4 1246.7,526.3 1247.2,526.3 1247.7,526.2 1248.2,526.3 1248.7,526.6 1249.2,526.7 1249.7,526.0 1250.2,524.8 1250.7,523.8 1251.2,523.5 1251.7,522.9 1252.2,522.7 1252.7,523.1 1253.2,523.2 1253.7,523.5 1254.2,522.8 1254.7,521.3M1255.2,518.1 1255.7,516.2 1256.2,517.1 1256.7,519.9" fill="none" stroke="#161616" stroke-width="2.4" stroke-linejoin="round" stroke-linecap="round"/>
<path d="M510.7,486.2 511.2,483.1 511.7,480.0M512.2,477.0 512.7,473.9 513.2,470.5 513.7,466.4 514.2,461.2 514.7,456.1 515.2,449.9 515.7,443.8 516.2,436.4 516.7,429.1 517.2,420.3 517.7,410.7 518.2,399.8 518.7,388.0 519.2,375.6 519.7,362.2 520.2,348.1 520.7,333.0 521.2,317.5 521.7,302.0 522.2,287.2 522.7,274.8 523.2,264.7 523.7,258.7M524.7,258.9 525.2,265.7 525.7,276.3 526.2,288.9 526.7,304.0 527.2,320.1 527.7,337.3 528.2,352.6 528.7,367.7 529.2,381.6 529.7,394.6 530.2,405.9 530.7,416.3 531.2,425.7 531.7,434.1 532.2,441.6 532.7,448.6 533.2,455.6 533.7,461.6 534.2,467.2 534.7,471.4 535.2,475.4 535.7,479.3M536.2,482.1 536.7,485.4M1254.7,521.3 1255.2,518.1" fill="none" stroke="#383838" stroke-width="1.6" stroke-linejoin="round"/>
<path d="M145.7,481.0 146.2,481.5 146.7,481.4 147.2,481.6 147.7,481.0 148.2,480.8 148.7,480.5 149.2,480.8 149.7,480.9 150.2,481.3 150.7,481.2 151.2,480.6 151.7,480.1 152.2,480.4 152.7,480.7 153.2,480.7 153.7,480.5 154.2,480.2 154.7,480.0 155.2,479.2 155.7,479.9 156.2,479.8 156.7,479.8 157.2,479.3 157.7,479.2 158.2,479.1 158.7,478.7 159.2,479.2 159.7,479.3 160.2,479.7 160.7,479.3 161.2,478.9 161.7,478.8 162.2,478.8 162.7,478.7 163.2,478.4 163.7,477.7 164.2,477.2 164.7,477.1 165.2,477.0 165.7,477.1 166.2,477.2 166.7,476.9 167.2,477.0 167.7,477.4 168.2,477.2 168.7,477.1 169.2,476.6 169.7,476.7 170.2,477.2 170.7,477.6 171.2,477.3 171.7,476.8 172.2,477.1 172.7,477.2 173.2,477.1 173.7,476.7 174.2,476.8 174.7,477.2 175.2,476.6 175.7,476.3 176.2,475.7 176.7,475.6 177.2,476.0 177.7,476.5 178.2,476.5 178.7,475.8 179.2,475.2 179.7,474.9 180.2,474.9 180.7,476.0 181.2,476.5 181.7,476.7 182.2,476.2 182.7,476.3 183.2,476.0 183.7,475.5 184.2,475.2 184.7,475.2 185.2,475.4 185.7,475.5 186.2,474.8 186.7,474.5 187.2,474.6 187.7,474.3 188.2,473.6 188.7,473.5 189.2,473.6 189.7,474.1 190.2,474.5 190.7,474.7 191.2,474.4 191.7,474.2 192.2,474.1 192.7,474.6 193.2,474.5 193.7,474.2 194.2,474.1 194.7,474.5 195.2,474.0 195.7,473.2 196.2,472.7 196.7,473.0 197.2,473.5 197.7,473.1 198.2,473.1 198.7,473.1 199.2,473.4 199.7,473.4 200.2,472.6 200.7,472.5 201.2,472.2 201.7,472.2 202.2,472.1 202.7,472.7 203.2,472.9 203.7,473.1 204.2,473.1 204.7,472.6 205.2,472.4 205.7,472.0 206.2,472.0 206.7,471.8 207.2,471.7 207.7,471.5 208.2,472.0 208.7,471.4 209.2,470.8 209.7,470.4 210.2,471.1 210.7,471.8 211.2,472.1 211.7,472.0 212.2,471.4 212.7,471.1 213.2,470.6 213.7,470.9 214.2,471.1 214.7,470.8 215.2,470.8 215.7,470.9 216.2,471.0 216.7,471.2 217.2,470.6 217.7,470.7 218.2,469.8 218.7,469.8 219.2,469.6 219.7,469.9 220.2,470.0 220.7,470.5 221.2,470.7 221.7,471.1 222.2,470.6 222.7,470.3 223.2,470.1 223.7,470.0 224.2,469.5 224.7,469.1 225.2,469.2 225.7,469.6 226.2,470.0 226.7,470.0 227.2,469.7 227.7,469.6 228.2,469.5 228.7,469.8 229.2,470.3 229.7,470.3 230.2,470.1 230.7,469.3 231.2,469.1 231.7,468.8 232.2,469.0 232.7,468.5 233.2,468.3 233.7,468.1 234.2,468.0 234.7,467.6 235.2,467.9 235.7,468.6 236.2,468.6 236.7,468.5 237.2,468.3 237.7,469.2 238.2,469.1 238.7,469.0 239.2,468.4 239.7,468.7 240.2,468.7 240.7,468.3 241.2,468.1 241.7,468.0 242.2,468.2 242.7,467.9 243.2,467.5 243.7,467.0 244.2,467.3 244.7,468.3 245.2,469.0 245.7,469.0 246.2,468.7 246.7,468.0 247.2,467.9 247.7,468.0 248.2,468.0 248.7,468.1 249.2,467.3 249.7,467.2 250.2,467.2 250.7,467.1 251.2,467.5 251.7,467.1 252.2,467.9 252.7,468.2 253.2,468.5 253.7,468.8 254.2,468.9 254.7,468.4 255.2,468.2 255.7,467.8 256.2,467.6 256.7,467.2 257.2,467.0 257.7,467.3 258.2,467.4 258.7,467.7 259.2,467.7 259.7,467.4 260.2,467.3 260.7,467.3 261.2,467.4 261.7,467.6 262.2,467.2 262.7,466.9 263.2,466.2 263.7,466.5 264.2,466.4 264.7,467.1 265.2,467.8 265.7,467.8 266.2,467.1 266.7,466.5 267.2,466.7 267.7,466.6 268.2,466.8 268.7,466.7 269.2,467.2 269.7,467.1 270.2,466.3 270.7,466.2 271.2,466.0 271.7,466.4 272.2,465.9 272.7,466.2 273.2,466.3 273.7,466.2 274.2,466.1 274.7,465.4 275.2,465.5 275.7,465.8 276.2,466.3 276.7,466.3 277.2,466.2 277.7,466.3 278.2,466.1 278.7,466.1 279.2,466.4 279.7,466.9 280.2,467.4 280.7,466.5 281.2,466.4 281.7,466.3 282.2,466.6 282.7,467.1 283.2,467.0 283.7,466.7 284.2,466.1 284.7,465.8 285.2,466.0 285.7,466.0 286.2,465.9 286.7,465.9 287.2,465.6 287.7,465.8 288.2,466.2 288.7,466.2 289.2,466.3 289.7,465.9 290.2,466.2 290.7,466.1 291.2,466.7 291.7,466.8 292.2,466.9 292.7,466.8 293.2,466.5 293.7,466.3 294.2,466.7 294.7,466.6 295.2,466.8 295.7,466.4 296.2,466.2 296.7,465.3 297.2,465.0 297.7,464.8 298.2,465.0 298.7,464.4 299.2,464.3 299.7,464.6 300.2,465.3 300.7,465.7 301.2,465.7 301.7,466.1 302.2,466.3 302.7,466.5 303.2,466.2 303.7,465.7 304.2,465.7 304.7,465.6 305.2,465.8 305.7,465.8 306.2,465.8 306.7,466.0 307.2,465.9 307.7,465.9 308.2,465.8 308.7,465.8 309.2,466.2 309.7,466.4 310.2,466.4 310.7,466.1 311.2,465.7 311.7,465.4 312.2,465.0 312.7,464.6 313.2,464.8 313.7,465.3 314.2,464.9 314.7,464.2 315.2,464.5 315.7,465.0 316.2,465.4 316.7,466.4 317.2,466.3 317.7,466.1 318.2,465.7 318.7,465.7 319.2,465.7 319.7,465.5 320.2,465.1 320.7,465.2 321.2,465.1 321.7,465.1 322.2,464.8 322.7,465.1 323.2,465.1 323.7,465.1 324.2,465.0 324.7,464.8 325.2,465.1 325.7,465.1 326.2,464.6 326.7,464.5 327.2,464.5 327.7,464.9 328.2,465.5 328.7,465.8 329.2,465.9 329.7,465.2 330.2,464.4 330.7,464.4 331.2,464.1 331.7,465.2 332.2,465.2 332.7,465.2 333.2,464.8 333.7,464.4 334.2,464.3 334.7,464.2 335.2,464.3 335.7,464.6 336.2,464.4 336.7,465.0 337.2,464.5 337.7,464.7 338.2,464.2 338.7,464.1 339.2,464.4 339.7,464.6 340.2,464.5 340.7,464.4 341.2,464.3 341.7,464.5 342.2,464.4 342.7,464.5 343.2,464.6 343.7,463.9 344.2,463.8 344.7,463.5 345.2,463.5 345.7,463.5 346.2,463.9 346.7,464.0 347.2,464.0 347.7,463.9 348.2,464.4 348.7,464.5 349.2,464.2 349.7,464.0 350.2,464.3 350.7,465.2 351.2,465.3 351.7,465.0 352.2,464.4 352.7,464.8 353.2,464.7 353.7,465.0 354.2,464.4 354.7,464.5 355.2,464.2 355.7,464.4 356.2,464.1 356.7,464.3 357.2,463.9 357.7,463.9 358.2,463.9 358.7,463.7 359.2,463.2 359.7,463.6 360.2,464.1 360.7,464.5 361.2,464.8 361.7,464.0 362.2,463.5 362.7,462.8 363.2,462.8 363.7,463.1 364.2,463.6 364.7,463.9 365.2,464.4 365.7,464.5 366.2,464.6 366.7,464.1 367.2,464.0 367.7,463.7 368.2,463.9 368.7,463.6 369.2,462.9 369.7,462.5 370.2,463.3 370.7,464.3 371.2,464.1 371.7,463.9 372.2,463.9 372.7,464.2 373.2,463.9 373.7,463.5 374.2,462.9 374.7,463.0 375.2,463.2 375.7,463.9 376.2,464.4 376.7,464.2 377.2,463.4 377.7,462.9 378.2,462.8 378.7,463.6 379.2,464.0 379.7,464.0 380.2,463.4 380.7,462.8 381.2,462.6 381.7,463.4 382.2,463.3 382.7,463.7 383.2,462.5 383.7,462.5 384.2,462.7 384.7,463.3 385.2,463.6 385.7,463.3 386.2,463.2 386.7,462.6 387.2,462.6 387.7,462.4 388.2,462.6 388.7,463.2 389.2,463.8 389.7,464.5 390.2,463.5 390.7,463.4 391.2,463.5 391.7,463.6 392.2,463.8 392.7,463.2 393.2,463.4 393.7,463.1 394.2,463.5 394.7,463.3 395.2,463.1 395.7,462.4 396.2,462.0 396.7,462.3 397.2,463.0 397.7,463.0 398.2,463.2 398.7,462.9 399.2,463.1 399.7,463.0 400.2,462.6 400.7,463.1 401.2,463.6 401.7,463.3 402.2,463.6 402.7,463.3 403.2,463.3 403.7,462.7 404.2,462.5 404.7,462.4 405.2,462.3 405.7,462.4 406.2,462.5 406.7,462.8 407.2,462.4 407.7,462.1 408.2,461.9 408.7,462.3 409.2,462.0 409.7,462.9 410.2,463.2 410.7,463.3 411.2,462.8 411.7,462.5 412.2,462.7 412.7,463.0 413.2,463.3 413.7,462.8 414.2,462.3 414.7,461.9 415.2,462.4 415.7,462.7 416.2,463.3 416.7,463.3 417.2,463.5 417.7,463.1 418.2,462.3 418.7,461.8 419.2,461.8 419.7,462.0 420.2,462.3 420.7,462.9 421.2,463.1 421.7,463.2 422.2,462.9 422.7,462.4 423.2,462.3 423.7,462.0 424.2,462.3 424.7,461.9 425.2,462.2 425.7,461.6 426.2,462.4 426.7,462.6 427.2,462.6 427.7,462.7 428.2,462.9 428.7,463.2 429.2,463.4 429.7,463.0 430.2,463.0 430.7,462.4 431.2,462.3 431.7,462.1 432.2,461.7 432.7,461.9 433.2,461.8 433.7,461.9 434.2,461.2 434.7,460.8 435.2,461.0 435.7,461.6 436.2,461.9 436.7,462.0 437.2,461.8 437.7,461.9 438.2,461.7 438.7,461.9 439.2,461.9 439.7,461.5 440.2,461.1 440.7,461.6 441.2,461.7 441.7,461.8 442.2,462.0 442.7,461.7 443.2,462.2 443.7,462.1 444.2,462.4 444.7,461.4 445.2,461.6 445.7,461.6 446.2,461.8 446.7,461.5 447.2,461.3 447.7,461.7 448.2,461.4 448.7,461.4 449.2,461.1 449.7,461.0 450.2,460.5 450.7,460.6 451.2,460.9 451.7,461.3 452.2,461.6 452.7,461.5 453.2,461.5 453.7,461.2 454.2,461.2 454.7,460.5 455.2,460.2 455.7,459.8 456.2,460.0 456.7,460.3 457.2,460.1 457.7,459.7 458.2,459.8 458.7,459.8 459.2,459.7 459.7,460.0 460.2,460.1 460.7,460.2 461.2,460.4 461.7,460.1 462.2,460.2 462.7,459.9 463.2,460.0 463.7,460.2 464.2,459.9 464.7,459.6 465.2,459.2 465.7,459.1 466.2,458.8 466.7,459.1 467.2,458.7 467.7,458.4 468.2,458.3 468.7,458.8 469.2,458.6 469.7,459.2 470.2,458.2 470.7,458.0 471.2,457.1 471.7,457.6 472.2,457.8 472.7,458.2 473.2,458.2 473.7,458.3 474.2,458.7 474.7,458.3 475.2,457.3 475.7,456.7 476.2,456.0 476.7,456.5 477.2,457.0 477.7,456.7 478.2,456.6 478.7,456.2 479.2,456.5 479.7,456.4 480.2,456.6 480.7,456.8 481.2,456.7 481.7,456.1 482.2,455.1 482.7,455.1 483.2,454.7 483.7,454.1 484.2,453.6 484.7,453.8 485.2,453.8 485.7,453.8 486.2,453.6 486.7,453.6 487.2,453.5 487.7,453.2 488.2,452.8 488.7,452.1 489.2,451.8 489.7,452.3 490.2,452.5 490.7,452.5 491.2,450.9 491.7,450.5 492.2,449.9 492.7,450.0 493.2,449.7 493.7,449.7 494.2,449.5 494.7,448.9 495.2,448.8 495.7,448.7 496.2,448.2 496.7,447.2 497.2,447.2 497.7,446.2 498.2,445.7 498.7,444.7 499.2,444.2 499.7,443.5 500.2,443.1 500.7,442.0 501.2,441.2 501.7,440.4 502.2,439.9 502.7,438.8 503.2,438.7 503.7,437.9 504.2,437.6 504.7,436.9 505.2,435.6 505.7,434.2 506.2,432.3 506.7,430.7 507.2,429.0 507.7,427.8 508.2,426.3 508.7,424.7 509.2,423.9 509.7,422.8 510.2,421.0 510.7,418.7 511.2,415.8 511.7,413.0 512.2,410.4 512.7,407.7 513.2,404.7 513.7,401.9M525.2,246.8 525.7,244.8 526.2,245.8 526.7,248.6M538.7,412.7 539.2,415.6 539.7,417.9 540.2,419.9 540.7,421.5 541.2,423.0 541.7,424.6 542.2,426.4 542.7,428.3 543.2,430.0 543.7,431.8 544.2,433.1 544.7,434.4 545.2,435.1 545.7,435.4 546.2,436.1 546.7,436.7 547.2,438.1 547.7,438.7 548.2,439.5 548.7,440.4 549.2,440.4 549.7,440.8 550.2,441.4 550.7,442.0 551.2,442.8 551.7,443.4 552.2,444.1 552.7,444.3 553.2,444.8 553.7,445.1 554.2,445.5 554.7,445.7 555.2,445.4 555.7,445.6 556.2,445.5 556.7,445.2 557.2,445.2 557.7,446.4 558.2,447.0 558.7,447.8 559.2,447.9 559.7,448.0 560.2,447.9 560.7,448.1 561.2,448.1 561.7,448.4 562.2,449.0 562.7,449.1 563.2,449.3 563.7,449.2 564.2,449.2 564.7,449.1 565.2,449.6 565.7,449.3 566.2,449.6 566.7,449.3 567.2,449.8 567.7,449.8 568.2,449.7 568.7,449.4 569.2,449.8 569.7,450.1 570.2,450.2 570.7,450.3 571.2,450.7 571.7,450.8 572.2,450.8 572.7,451.0 573.2,450.9 573.7,450.8 574.2,451.2 574.7,451.1 575.2,451.3 575.7,451.1 576.2,451.5 576.7,451.8 577.2,451.8 577.7,451.8 578.2,451.8 578.7,451.9 579.2,451.6 579.7,451.8 580.2,451.7 580.7,452.1 581.2,451.5 581.7,451.6 582.2,451.3 582.7,451.7 583.2,452.0 583.7,451.6 584.2,451.8 584.7,451.2 585.2,451.0 585.7,451.2 586.2,451.2 586.7,451.5 587.2,451.0 587.7,450.1 588.2,450.2 588.7,450.5 589.2,451.0 589.7,450.9 590.2,450.9 590.7,451.2 591.2,450.9 591.7,451.1 592.2,451.0 592.7,451.6 593.2,451.4 593.7,450.4 594.2,449.8 594.7,449.9 595.2,450.9 595.7,450.9 596.2,451.0 596.7,450.3 597.2,450.4 597.7,450.6 598.2,450.9 598.7,450.6 599.2,450.3 599.7,450.5 600.2,450.6 600.7,450.6 601.2,450.2 601.7,449.7 602.2,449.5 602.7,449.1 603.2,449.8 603.7,450.1 604.2,449.9 604.7,449.2 605.2,448.8 605.7,449.3 606.2,449.0 606.7,448.9 607.2,448.7 607.7,448.6 608.2,448.6 608.7,449.0 609.2,448.6 609.7,448.8 610.2,448.3 610.7,448.1 611.2,448.0 611.7,447.8 612.2,447.4 612.7,446.9 613.2,446.3 613.7,446.2 614.2,445.5 614.7,445.0 615.2,445.0 615.7,444.7 616.2,444.2 616.7,443.9 617.2,443.8 617.7,443.5 618.2,442.4 618.7,441.4 619.2,440.9 619.7,440.7 620.2,440.3 620.7,439.9 621.2,439.7 621.7,439.2 622.2,438.4 622.7,437.5 623.2,436.5 623.7,435.5 624.2,434.6 624.7,433.6 625.2,432.8 625.7,431.3 626.2,429.3M630.7,415.9 631.2,417.8 631.7,418.2 632.2,418.2 632.7,417.9 633.2,417.9 633.7,416.9 634.2,415.8 634.7,414.8 635.2,414.0 635.7,413.0 636.2,411.9 636.7,411.2 637.2,410.1 637.7,409.3 638.2,408.7 638.7,407.9 639.2,407.8 639.7,407.5 640.2,408.0 640.7,407.2 641.2,406.9 641.7,406.3 642.2,406.3 642.7,406.8 643.2,407.4 643.7,408.3 644.2,409.4 644.7,410.9 645.2,412.4 645.7,413.5 646.2,414.3 646.7,415.5 647.2,416.4 647.7,416.8 648.2,418.0 648.7,419.5 649.2,421.4 649.7,422.5 650.2,423.7 650.7,425.2 651.2,426.3 651.7,427.6 652.2,428.7 652.7,429.6 653.2,430.2 653.7,431.5 654.2,433.4 654.7,434.6 655.2,436.4 655.7,437.3 656.2,438.3 656.7,439.0 657.2,439.3 657.7,440.3 658.2,441.5 658.7,443.0 659.2,444.3 659.7,444.6 660.2,444.9 660.7,445.0 661.2,445.9 661.7,446.8 662.2,447.9 662.7,448.9 663.2,449.7 663.7,449.7 664.2,449.9 664.7,449.8 665.2,450.5 665.7,450.7 666.2,450.8 666.7,451.5 667.2,452.0 667.7,452.8 668.2,453.2 668.7,453.5 669.2,453.9 669.7,453.7 670.2,453.7 670.7,453.7 671.2,454.0 671.7,454.1 672.2,454.5 672.7,454.5 673.2,454.5 673.7,454.6 674.2,455.6 674.7,456.2 675.2,456.6 675.7,456.7 676.2,456.9 676.7,456.7 677.2,456.7 677.7,456.1 678.2,455.8 678.7,456.0 679.2,456.4 679.7,457.0 680.2,457.5 680.7,457.6 681.2,458.0 681.7,458.3 682.2,458.1 682.7,457.6 683.2,457.2 683.7,457.4 684.2,456.4 684.7,456.0 685.2,455.9 685.7,456.8 686.2,456.6 686.7,457.2 687.2,457.3 687.7,457.7 688.2,457.2 688.7,457.6 689.2,457.8 689.7,458.3 690.2,457.9 690.7,457.9 691.2,458.0 691.7,458.3 692.2,458.4 692.7,457.9 693.2,457.8 693.7,457.2 694.2,457.4 694.7,457.4 695.2,458.0 695.7,458.7 696.2,459.1 696.7,458.6 697.2,458.3 697.7,458.1 698.2,458.4 698.7,458.6 699.2,459.0 699.7,459.1 700.2,458.9 700.7,458.4 701.2,458.2 701.7,457.8 702.2,457.9 702.7,458.9 703.2,459.5 703.7,459.0 704.2,457.9 704.7,456.9 705.2,457.4 705.7,458.2 706.2,458.5 706.7,458.9 707.2,458.5 707.7,458.7 708.2,458.5 708.7,458.4 709.2,458.0 709.7,458.2 710.2,458.2 710.7,458.1 711.2,457.7 711.7,457.9 712.2,458.1 712.7,458.7 713.2,459.1 713.7,459.1 714.2,459.0 714.7,458.5 715.2,458.3 715.7,457.9 716.2,458.4 716.7,458.8 717.2,458.7 717.7,458.7 718.2,458.1 718.7,458.5 719.2,458.6 719.7,459.2 720.2,459.1 720.7,459.0 721.2,457.5 721.7,457.6 722.2,457.8 722.7,458.3 723.2,458.2 723.7,457.9 724.2,457.5 724.7,457.8 725.2,458.2 725.7,459.3 726.2,459.5 726.7,460.3 727.2,459.9 727.7,459.6 728.2,459.4 728.7,459.1 729.2,458.5 729.7,458.3 730.2,459.0 730.7,458.9 731.2,459.3 731.7,459.1 732.2,458.7 732.7,459.2 733.2,459.5 733.7,459.8 734.2,459.5 734.7,459.4 735.2,459.4 735.7,459.5 736.2,460.1 736.7,460.2 737.2,460.3 737.7,459.8 738.2,459.5 738.7,458.9 739.2,458.9 739.7,459.2 740.2,459.1 740.7,458.8 741.2,458.7 741.7,458.5 742.2,458.9 742.7,459.0 743.2,459.0 743.7,459.0 744.2,459.6 744.7,459.3 745.2,458.6 745.7,458.1 746.2,457.6 746.7,457.4 747.2,457.6 747.7,458.3 748.2,459.1 748.7,459.6 749.2,459.6 749.7,459.7 750.2,459.3 750.7,458.7 751.2,458.8 751.7,459.3 752.2,459.5 752.7,459.3 753.2,458.7 753.7,458.6 754.2,459.6 754.7,459.5 755.2,459.7 755.7,459.3 756.2,459.1 756.7,459.8 757.2,460.0 757.7,460.2 758.2,459.7 758.7,459.2 759.2,459.2 759.7,459.4 760.2,459.3 760.7,459.4 761.2,459.4 761.7,458.9 762.2,459.1 762.7,459.3 763.2,459.6 763.7,459.4 764.2,459.1 764.7,459.3 765.2,459.2 765.7,459.5 766.2,459.5 766.7,459.7 767.2,459.8 767.7,459.8 768.2,459.2 768.7,459.3 769.2,459.2 769.7,459.4 770.2,459.5 770.7,459.8 771.2,459.3 771.7,459.0 772.2,458.7 772.7,458.9 773.2,458.9 773.7,458.9 774.2,459.3 774.7,459.7 775.2,460.2 775.7,460.1 776.2,460.7 776.7,460.5 777.2,460.3 777.7,459.9 778.2,459.5 778.7,459.2 779.2,459.3 779.7,459.5 780.2,460.0 780.7,460.6 781.2,460.9 781.7,460.4 782.2,459.8 782.7,458.9 783.2,458.5 783.7,459.1 784.2,459.9 784.7,460.7 785.2,461.0 785.7,460.6 786.2,460.6 786.7,460.4 787.2,460.1 787.7,460.2 788.2,460.0 788.7,459.8 789.2,458.9 789.7,458.5 790.2,459.2 790.7,459.8 791.2,460.1 791.7,459.6 792.2,459.6 792.7,459.3 793.2,459.4 793.7,459.1 794.2,459.0 794.7,459.1 795.2,458.8 795.7,458.8 796.2,459.1 796.7,459.1 797.2,458.7 797.7,459.2 798.2,458.8 798.7,459.3 799.2,459.6 799.7,460.4 800.2,460.0 800.7,460.1 801.2,459.5 801.7,459.4 802.2,458.9 802.7,458.9 803.2,458.8 803.7,459.0 804.2,459.6 804.7,459.9 805.2,459.9 805.7,459.6 806.2,459.5 806.7,459.2 807.2,459.5 807.7,459.6 808.2,459.5 808.7,459.3 809.2,459.3 809.7,459.2 810.2,459.2 810.7,459.3 811.2,459.0 811.7,459.7 812.2,459.6 812.7,459.5 813.2,458.9 813.7,459.0 814.2,459.2 814.7,459.8 815.2,460.0 815.7,459.9 816.2,459.2 816.7,458.4 817.2,458.5 817.7,458.7 818.2,459.0 818.7,458.7 819.2,458.9 819.7,459.0 820.2,459.3 820.7,459.6 821.2,460.4 821.7,460.3 822.2,460.4 822.7,459.8 823.2,459.4 823.7,459.3 824.2,458.9 824.7,458.8 825.2,458.3 825.7,459.0 826.2,459.1 826.7,459.7 827.2,459.3 827.7,459.0 828.2,458.7 828.7,458.9 829.2,459.0 829.7,459.2 830.2,459.9 830.7,459.9 831.2,460.2 831.7,460.2 832.2,460.0 832.7,460.0 833.2,459.9 833.7,460.0 834.2,459.9 834.7,459.7 835.2,459.3 835.7,458.9 836.2,458.8 836.7,459.0 837.2,459.3 837.7,459.5 838.2,458.9 838.7,458.7 839.2,458.6 839.7,459.1 840.2,459.5 840.7,459.1 841.2,458.8 841.7,458.2 842.2,458.7 842.7,458.8 843.2,458.7 843.7,458.5 844.2,459.1 844.7,459.4 845.2,459.8 845.7,459.2 846.2,459.1 846.7,458.7 847.2,458.8 847.7,458.7 848.2,459.5 848.7,459.4 849.2,459.3 849.7,459.1 850.2,459.3 850.7,459.2 851.2,459.1 851.7,459.0 852.2,459.0 852.7,458.9 853.2,458.8 853.7,458.6 854.2,458.4 854.7,458.2 855.2,458.5 855.7,459.1 856.2,459.0 856.7,458.3 857.2,457.3 857.7,457.9 858.2,459.0 858.7,460.0 859.2,459.9 859.7,459.3 860.2,459.1 860.7,459.2 861.2,459.6 861.7,459.4 862.2,459.2 862.7,459.2 863.2,459.0 863.7,458.4 864.2,458.7 864.7,459.2 865.2,459.3 865.7,458.9 866.2,459.1 866.7,459.2 867.2,459.1 867.7,458.7 868.2,458.9 868.7,459.1 869.2,459.4 869.7,459.3 870.2,459.7 870.7,459.1 871.2,458.3 871.7,457.9 872.2,457.4 872.7,458.3 873.2,459.0 873.7,460.0 874.2,459.7 874.7,459.6 875.2,459.4 875.7,459.3 876.2,459.2 876.7,459.7 877.2,459.8 877.7,460.0 878.2,459.5 878.7,458.8 879.2,458.5 879.7,458.5 880.2,458.7 880.7,458.9 881.2,458.9 881.7,459.0 882.2,459.6 882.7,459.6 883.2,459.1 883.7,458.4 884.2,458.1 884.7,458.0 885.2,458.1 885.7,458.3 886.2,458.8 886.7,458.9 887.2,459.0 887.7,458.9 888.2,459.3 888.7,459.7 889.2,459.6 889.7,459.5 890.2,459.9 890.7,459.5 891.2,459.0 891.7,458.9 892.2,458.6 892.7,458.7 893.2,458.8 893.7,458.5 894.2,458.4 894.7,458.7 895.2,458.8 895.7,458.5 896.2,458.7 896.7,459.1 897.2,459.2 897.7,459.2 898.2,458.7 898.7,458.4 899.2,458.3 899.7,458.1 900.2,457.9 900.7,457.1 901.2,457.4 901.7,458.1 902.2,458.6 902.7,458.4 903.2,458.2 903.7,457.8 904.2,457.8 904.7,458.2 905.2,458.2 905.7,458.1 906.2,457.9 906.7,458.3 907.2,458.4 907.7,458.4 908.2,458.4 908.7,458.5 909.2,459.0 909.7,459.3 910.2,459.7 910.7,459.4 911.2,458.8 911.7,458.2 912.2,458.5 912.7,458.4 913.2,458.7 913.7,458.1 914.2,458.4 914.7,458.9 915.2,458.9 915.7,459.0 916.2,458.8 916.7,458.5 917.2,458.5 917.7,458.3 918.2,458.6 918.7,459.1 919.2,458.6 919.7,458.6 920.2,458.1 920.7,458.4 921.2,457.8 921.7,457.7 922.2,457.4 922.7,457.3 923.2,457.3 923.7,457.6 924.2,457.7 924.7,457.7 925.2,457.5 925.7,457.5 926.2,457.6 926.7,457.8 927.2,457.7 927.7,458.0 928.2,458.2 928.7,458.7 929.2,458.8 929.7,458.7 930.2,458.7 930.7,458.4 931.2,458.6 931.7,458.3 932.2,458.0 932.7,458.1 933.2,458.0 933.7,458.5 934.2,457.9 934.7,457.3 935.2,457.0 935.7,457.3 936.2,457.7 936.7,458.2 937.2,458.6 937.7,458.6 938.2,458.4 938.7,458.1 939.2,458.3 939.7,458.0 940.2,457.2 940.7,457.1 941.2,457.3 941.7,457.6 942.2,458.1 942.7,458.0 943.2,457.5 943.7,456.8 944.2,456.3 944.7,456.5 945.2,456.5 945.7,456.4 946.2,456.1 946.7,456.4 947.2,456.9 947.7,457.4 948.2,457.4 948.7,457.4 949.2,457.6 949.7,457.7 950.2,457.9 950.7,457.4 951.2,457.4 951.7,457.3 952.2,458.0 952.7,458.1 953.2,458.2 953.7,457.6 954.2,457.3 954.7,457.1 955.2,457.3 955.7,457.5 956.2,456.8 956.7,457.6 957.2,457.1 957.7,457.4 958.2,457.1 958.7,457.3 959.2,457.7 959.7,457.8 960.2,458.2 960.7,457.7 961.2,457.6 961.7,457.0 962.2,456.9 962.7,457.2 963.2,457.7 963.7,457.8 964.2,457.3 964.7,456.5 965.2,456.4 965.7,456.4 966.2,456.9 966.7,456.8 967.2,456.7 967.7,456.9 968.2,457.3 968.7,457.4 969.2,457.2 969.7,457.3 970.2,457.2 970.7,457.1 971.2,457.2 971.7,457.6 972.2,457.1 972.7,457.3 973.2,457.1 973.7,457.3 974.2,457.2 974.7,457.1 975.2,456.9 975.7,457.0 976.2,457.0 976.7,456.8 977.2,456.5 977.7,457.0 978.2,457.4 978.7,457.2 979.2,456.7 979.7,456.2 980.2,456.8 980.7,457.0 981.2,457.1 981.7,456.4 982.2,456.2 982.7,455.8 983.2,455.7 983.7,455.4 984.2,455.6 984.7,455.9 985.2,456.3 985.7,456.6 986.2,456.3 986.7,456.2 987.2,456.5 987.7,456.4 988.2,456.6 988.7,456.2 989.2,455.8 989.7,455.6 990.2,455.7 990.7,455.7 991.2,455.7 991.7,455.5 992.2,455.6 992.7,455.3 993.2,455.1 993.7,454.9 994.2,454.7 994.7,454.7 995.2,454.4 995.7,454.2 996.2,454.2 996.7,454.9 997.2,454.7 997.7,454.7 998.2,454.5 998.7,454.6 999.2,454.0 999.7,453.2 1000.2,453.1 1000.7,452.6 1001.2,452.6 1001.7,451.9 1002.2,451.0 1002.7,448.7M1005.7,439.4 1006.2,440.3M1008.7,447.2 1009.2,449.1 1009.7,449.5 1010.2,449.3 1010.7,448.7 1011.2,448.5 1011.7,448.2 1012.2,446.9 1012.7,446.4 1013.2,446.2 1013.7,446.5 1014.2,446.1 1014.7,445.5 1015.2,444.8 1015.7,444.5 1016.2,444.4 1016.7,444.2 1017.2,442.7 1017.7,441.6 1018.2,440.1 1018.7,439.5 1019.2,438.1 1019.7,437.0 1020.2,435.6 1020.7,434.4 1021.2,433.3 1021.7,432.5 1022.2,432.0 1022.7,432.2 1023.2,431.6 1023.7,430.9 1024.2,429.8 1024.7,428.7 1025.2,428.3 1025.7,427.8 1026.2,427.9 1026.7,428.1 1027.2,428.5 1027.7,428.8 1028.2,429.1 1028.7,429.6 1029.2,430.6 1029.7,431.9 1030.2,432.9 1030.7,433.3 1031.2,433.7 1031.7,434.5 1032.2,435.7 1032.7,436.9 1033.2,437.9 1033.7,438.6 1034.2,438.9 1034.7,439.3 1035.2,440.0 1035.7,441.4 1036.2,442.2 1036.7,442.7 1037.2,443.4 1037.7,444.3 1038.2,445.2 1038.7,446.7 1039.2,447.2 1039.7,448.2 1040.2,448.0 1040.7,448.5 1041.2,449.2 1041.7,450.3 1042.2,450.1 1042.7,450.2 1043.2,449.7 1043.7,450.5 1044.2,450.7 1044.7,451.6 1045.2,452.4 1045.7,452.5 1046.2,452.8 1046.7,452.7 1047.2,453.0 1047.7,453.4 1048.2,453.8 1048.7,453.7 1049.2,453.4 1049.7,453.0 1050.2,453.0 1050.7,453.6 1051.2,454.1 1051.7,454.7 1052.2,454.9 1052.7,454.9 1053.2,454.5 1053.7,454.7 1054.2,454.5 1054.7,454.2 1055.2,453.7 1055.7,454.1 1056.2,454.7 1056.7,455.0 1057.2,455.0 1057.7,454.9 1058.2,455.4 1058.7,455.3 1059.2,455.4 1059.7,455.6 1060.2,455.7 1060.7,455.4 1061.2,455.3 1061.7,455.3 1062.2,455.8 1062.7,455.6 1063.2,455.4 1063.7,454.8 1064.2,455.0 1064.7,454.9 1065.2,455.0 1065.7,454.9 1066.2,455.6 1066.7,456.3 1067.2,456.2 1067.7,455.6 1068.2,455.3 1068.7,455.2 1069.2,455.5 1069.7,455.6 1070.2,456.1 1070.7,456.6 1071.2,456.7 1071.7,456.3 1072.2,455.7 1072.7,455.8 1073.2,456.3 1073.7,456.2 1074.2,456.8 1074.7,456.6 1075.2,456.7 1075.7,456.0 1076.2,455.8 1076.7,456.0 1077.2,456.5 1077.7,456.4 1078.2,456.0 1078.7,456.2 1079.2,455.9 1079.7,456.3 1080.2,456.6 1080.7,456.9 1081.2,456.6 1081.7,456.2 1082.2,455.7 1082.7,456.2 1083.2,456.5 1083.7,456.8 1084.2,457.1 1084.7,457.4 1085.2,457.7 1085.7,458.1 1086.2,458.2 1086.7,457.4 1087.2,456.8 1087.7,456.2 1088.2,456.6 1088.7,456.6 1089.2,457.5 1089.7,457.5 1090.2,457.2 1090.7,456.9 1091.2,456.5 1091.7,456.4 1092.2,456.8 1092.7,456.7 1093.2,457.1 1093.7,457.3 1094.2,458.0 1094.7,458.0 1095.2,458.1 1095.7,457.6 1096.2,456.6 1096.7,456.1 1097.2,455.6 1097.7,455.9 1098.2,455.3 1098.7,455.6 1099.2,455.6 1099.7,456.3 1100.2,456.8 1100.7,456.7 1101.2,456.8 1101.7,456.7 1102.2,456.9 1102.7,456.6 1103.2,456.9 1103.7,456.7 1104.2,456.7 1104.7,456.9 1105.2,457.7 1105.7,457.8 1106.2,457.5 1106.7,456.9 1107.2,456.5 1107.7,456.1 1108.2,456.0 1108.7,456.3 1109.2,456.4 1109.7,456.4 1110.2,456.5 1110.7,456.8 1111.2,457.0 1111.7,456.9 1112.2,457.5 1112.7,456.8 1113.2,457.2 1113.7,457.0 1114.2,457.6 1114.7,457.7 1115.2,457.9 1115.7,457.6 1116.2,457.5 1116.7,457.9 1117.2,457.6 1117.7,457.4 1118.2,457.2 1118.7,457.3 1119.2,458.0 1119.7,458.6 1120.2,458.7 1120.7,458.4 1121.2,458.1 1121.7,458.0 1122.2,457.8 1122.7,458.0 1123.2,457.6 1123.7,457.0 1124.2,457.3 1124.7,457.2 1125.2,457.7 1125.7,457.8 1126.2,457.8 1126.7,457.8 1127.2,457.7 1127.7,456.9 1128.2,456.5 1128.7,457.1 1129.2,457.8 1129.7,458.7 1130.2,458.6 1130.7,458.0 1131.2,457.2 1131.7,456.5 1132.2,456.5 1132.7,456.9 1133.2,457.4 1133.7,457.5 1134.2,457.7 1134.7,457.7 1135.2,457.3 1135.7,457.3 1136.2,457.1 1136.7,457.5 1137.2,457.1 1137.7,457.5 1138.2,457.4 1138.7,457.0 1139.2,457.2 1139.7,457.5 1140.2,457.3 1140.7,457.4 1141.2,457.7 1141.7,458.2 1142.2,457.9 1142.7,457.1 1143.2,456.6 1143.7,456.4 1144.2,456.7 1144.7,456.5 1145.2,456.9 1145.7,457.2 1146.2,457.1 1146.7,457.3 1147.2,457.4 1147.7,457.6 1148.2,457.2 1148.7,457.4 1149.2,457.3 1149.7,457.3 1150.2,456.9 1150.7,457.3 1151.2,457.0 1151.7,457.4 1152.2,457.5 1152.7,458.5 1153.2,458.3 1153.7,458.5 1154.2,457.8 1154.7,457.8 1155.2,458.0 1155.7,457.9 1156.2,458.0 1156.7,457.9 1157.2,457.5 1157.7,457.3 1158.2,457.5 1158.7,458.0 1159.2,458.1 1159.7,458.1 1160.2,457.5 1160.7,457.1 1161.2,456.7 1161.7,456.9 1162.2,456.9 1162.7,456.9 1163.2,456.7 1163.7,456.9 1164.2,457.2 1164.7,457.5 1165.2,457.4 1165.7,457.5 1166.2,457.9 1166.7,458.0 1167.2,457.4 1167.7,456.8 1168.2,456.1 1168.7,456.4 1169.2,457.3 1169.7,458.3 1170.2,458.6 1170.7,458.2 1171.2,457.4 1171.7,457.2 1172.2,456.6 1172.7,456.7 1173.2,456.7 1173.7,457.6 1174.2,458.3 1174.7,458.6 1175.2,457.9 1175.7,457.3 1176.2,456.6 1176.7,457.1 1177.2,457.9 1177.7,458.2 1178.2,458.3 1178.7,458.0 1179.2,458.0 1179.7,457.8 1180.2,457.7 1180.7,458.2 1181.2,457.4 1181.7,457.6 1182.2,457.3 1182.7,457.7 1183.2,457.2 1183.7,457.1 1184.2,456.9 1184.7,457.0 1185.2,456.5 1185.7,456.3 1186.2,456.6 1186.7,456.8 1187.2,457.1 1187.7,456.9 1188.2,456.9 1188.7,457.2 1189.2,457.5 1189.7,457.4 1190.2,456.9 1190.7,456.3 1191.2,456.6 1191.7,456.8 1192.2,457.0 1192.7,457.3 1193.2,457.2 1193.7,457.6 1194.2,457.2 1194.7,457.1 1195.2,456.1 1195.7,455.9 1196.2,456.5 1196.7,457.6 1197.2,457.3 1197.7,457.1 1198.2,456.9 1198.7,456.8 1199.2,457.2 1199.7,457.5 1200.2,458.1 1200.7,458.0 1201.2,457.7 1201.7,457.4 1202.2,457.2 1202.7,456.7 1203.2,457.1 1203.7,456.9 1204.2,457.3 1204.7,457.3 1205.2,457.7 1205.7,457.7 1206.2,457.3 1206.7,456.8 1207.2,456.7 1207.7,456.7 1208.2,456.5 1208.7,456.5 1209.2,456.5 1209.7,456.5 1210.2,456.7 1210.7,456.5 1211.2,456.3 1211.7,456.0 1212.2,456.0 1212.7,456.7 1213.2,457.0 1213.7,456.9 1214.2,456.9 1214.7,456.7 1215.2,456.3 1215.7,456.4 1216.2,455.9 1216.7,456.2 1217.2,456.5 1217.7,456.5 1218.2,457.1 1218.7,456.7 1219.2,457.1 1219.7,456.7 1220.2,457.1 1220.7,457.1 1221.2,457.7 1221.7,457.4 1222.2,457.4 1222.7,457.0 1223.2,456.7 1223.7,456.6 1224.2,456.8 1224.7,457.1 1225.2,457.1 1225.7,456.9 1226.2,456.5 1226.7,456.4 1227.2,455.7 1227.7,455.6 1228.2,455.0 1228.7,455.3 1229.2,455.3 1229.7,455.3 1230.2,455.6 1230.7,456.4 1231.2,456.8 1231.7,457.1 1232.2,457.1 1232.7,456.9 1233.2,456.9 1233.7,456.5 1234.2,456.4 1234.7,455.7 1235.2,456.0 1235.7,456.4 1236.2,456.5 1236.7,456.2 1237.2,456.0 1237.7,456.0 1238.2,455.8 1238.7,455.6 1239.2,456.0 1239.7,455.6 1240.2,455.2 1240.7,454.5 1241.2,454.5 1241.7,455.3 1242.2,455.7 1242.7,455.0 1243.2,455.2 1243.7,455.5 1244.2,455.7 1244.7,455.6 1245.2,455.5 1245.7,455.4 1246.2,456.0 1246.7,455.8 1247.2,455.6 1247.7,454.9 1248.2,455.7 1248.7,455.7 1249.2,456.1 1249.7,456.2 1250.2,455.9 1250.7,455.2 1251.2,454.6 1251.7,453.6 1252.2,452.1 1252.7,450.5 1253.2,448.3 1253.7,446.6 1254.2,444.7 1254.7,442.6M1255.2,439.2 1255.7,436.3" fill="none" stroke="#161616" stroke-width="2.4" stroke-linejoin="round" stroke-linecap="round"/>
<path d="M513.7,401.9 514.2,398.3 514.7,394.3 515.2,390.2 515.7,385.9 516.2,381.4 516.7,376.1 517.2,369.9 517.7,363.7 518.2,357.7 518.7,350.8 519.2,342.2 519.7,333.3 520.2,324.4 520.7,315.7 521.2,306.6 521.7,297.1 522.2,287.6 522.7,277.7 523.2,268.8 523.7,261.0 524.2,255.2 524.7,250.2 525.2,246.8M526.7,248.6 527.2,253.8 527.7,260.5 528.2,268.4 528.7,277.5 529.2,287.1 529.7,297.5 530.2,308.0 530.7,318.2 531.2,328.4 531.7,337.8 532.2,345.9 532.7,353.6 533.2,361.2 533.7,368.6 534.2,375.5 534.7,380.9 535.2,385.8 535.7,390.3 536.2,395.0 536.7,399.2 537.2,402.7 537.7,406.1 538.2,409.3 538.7,412.7M626.2,429.3 626.7,426.3 627.2,421.0 627.7,410.2 628.2,390.6 628.7,383.4 629.2,396.0 629.7,402.7 630.2,410.7 630.7,415.9M1002.7,448.7 1003.2,444.8 1003.7,437.3 1004.2,424.4 1004.7,420.9 1005.2,432.7 1005.7,439.4M1006.2,440.3 1006.7,436.2 1007.2,432.5 1007.7,438.3 1008.2,444.2 1008.7,447.2M1254.7,442.6 1255.2,439.2M1255.7,436.3 1256.2,432.7 1256.7,429.6" fill="none" stroke="#383838" stroke-width="1.6" stroke-linejoin="round"/>
<path d="M145.7,409.9 146.2,409.3 146.7,409.1 147.2,408.9 147.7,408.6 148.2,408.4 148.7,408.3 149.2,408.1 149.7,408.6 150.2,408.5 150.7,408.3 151.2,408.2 151.7,408.2 152.2,407.8 152.7,407.6 153.2,407.3 153.7,407.7 154.2,407.6 154.7,407.7 155.2,407.3 155.7,407.8 156.2,407.7 156.7,407.7 157.2,407.8 157.7,407.1 158.2,406.2 158.7,406.0 159.2,405.8 159.7,406.5 160.2,406.4 160.7,406.3 161.2,406.5 161.7,405.7 162.2,405.8 162.7,405.0 163.2,405.4 163.7,405.7 164.2,406.7 164.7,406.9 165.2,406.4 165.7,406.3 166.2,405.8 166.7,405.5 167.2,404.7 167.7,404.2 168.2,404.4 168.7,405.4 169.2,406.1 169.7,405.9 170.2,405.6 170.7,405.8 171.2,405.4 171.7,405.2 172.2,404.8 172.7,404.4 173.2,404.2 173.7,403.9 174.2,404.4 174.7,404.5 175.2,404.6 175.7,403.9 176.2,403.5 176.7,403.9 177.2,404.3 177.7,403.8 178.2,403.2 178.7,402.7 179.2,402.7 179.7,403.0 180.2,403.2 180.7,403.8 181.2,403.7 181.7,404.0 182.2,404.2 182.7,404.2 183.2,403.7 183.7,403.5 184.2,403.1 184.7,402.7 185.2,402.4 185.7,402.9 186.2,403.1 186.7,402.9 187.2,402.3 187.7,402.1 188.2,402.2 188.7,402.6 189.2,403.2 189.7,403.4 190.2,403.2 190.7,402.9 191.2,402.6 191.7,402.1 192.2,401.8 192.7,401.8 193.2,402.2 193.7,402.8 194.2,402.5 194.7,401.7 195.2,401.2 195.7,401.1 196.2,401.3 196.7,401.3 197.2,400.9 197.7,401.2 198.2,401.2 198.7,401.9 199.2,401.7 199.7,401.8 200.2,401.1 200.7,401.0 201.2,401.2 201.7,401.3 202.2,401.0 202.7,400.4 203.2,400.4 203.7,400.3 204.2,400.4 204.7,400.4 205.2,400.8 205.7,400.3 206.2,400.1 206.7,400.3 207.2,400.3 207.7,400.4 208.2,400.5 208.7,400.5 209.2,400.5 209.7,400.4 210.2,400.0 210.7,399.5 211.2,399.3 211.7,399.2 212.2,399.1 212.7,398.7 213.2,398.3 213.7,398.4 214.2,398.2 214.7,398.2 215.2,398.8 215.7,398.8 216.2,399.0 216.7,398.5 217.2,398.2 217.7,398.0 218.2,398.2 218.7,398.3 219.2,398.2 219.7,398.2 220.2,397.8 220.7,398.0 221.2,397.8 221.7,398.4 222.2,399.1 222.7,399.4 223.2,399.3 223.7,398.6 224.2,399.0 224.7,399.0 225.2,399.0 225.7,398.5 226.2,398.6 226.7,398.7 227.2,398.2 227.7,398.4 228.2,398.4 228.7,398.1 229.2,397.9 229.7,397.3 230.2,397.2 230.7,397.3 231.2,397.8 231.7,397.8 232.2,398.0 232.7,397.6 233.2,397.8 233.7,397.9 234.2,397.9 234.7,397.4 235.2,397.6 235.7,397.4 236.2,397.8 236.7,397.9 237.2,397.9 237.7,397.2 238.2,396.5 238.7,396.5 239.2,397.2 239.7,397.4 240.2,397.7 240.7,397.5 241.2,397.2 241.7,397.1 242.2,396.7 242.7,396.4 243.2,397.1 243.7,396.6 244.2,397.3 244.7,397.1 245.2,397.0 245.7,396.3 246.2,396.5 246.7,395.9 247.2,396.0 247.7,396.3 248.2,397.0 248.7,397.1 249.2,397.1 249.7,396.5 250.2,396.2 250.7,396.0 251.2,396.2 251.7,396.6 252.2,396.5 252.7,396.4 253.2,396.1 253.7,396.0 254.2,396.2 254.7,396.3 255.2,396.7 255.7,396.8 256.2,397.0 256.7,396.3 257.2,395.9 257.7,395.6 258.2,395.9 258.7,396.0 259.2,395.9 259.7,396.0 260.2,396.1 260.7,396.0 261.2,395.9 261.7,396.2 262.2,396.2 262.7,396.4 263.2,396.5 263.7,396.3 264.2,395.8 264.7,395.5 265.2,395.3 265.7,395.2 266.2,394.9 266.7,395.7 267.2,395.5 267.7,395.7 268.2,395.2 268.7,395.6 269.2,395.0 269.7,394.9 270.2,394.4 270.7,394.7 271.2,394.8 271.7,395.0 272.2,395.3 272.7,395.3 273.2,395.3 273.7,394.7 274.2,394.5 274.7,394.9 275.2,395.4 275.7,395.5 276.2,395.1 276.7,394.5 277.2,394.9 277.7,395.2 278.2,394.9 278.7,394.6 279.2,394.5 279.7,394.4 280.2,394.8 280.7,394.9 281.2,395.1 281.7,394.8 282.2,394.5 282.7,394.6 283.2,394.6 283.7,393.9 284.2,393.6 284.7,393.1 285.2,393.6 285.7,393.1 286.2,392.7 286.7,392.8 287.2,393.4 287.7,394.1 288.2,394.0 288.7,393.8 289.2,393.3 289.7,393.3 290.2,393.9 290.7,394.2 291.2,394.1 291.7,394.0 292.2,393.5 292.7,393.8 293.2,394.2 293.7,394.7 294.2,394.3 294.7,394.3 295.2,393.6 295.7,393.4 296.2,393.0 296.7,392.8 297.2,393.3 297.7,393.5 298.2,393.6 298.7,393.4 299.2,393.3 299.7,392.5 300.2,392.1 300.7,392.2 301.2,392.6 301.7,393.3 302.2,393.1 302.7,393.0 303.2,393.1 303.7,393.7 304.2,393.1 304.7,392.9 305.2,392.9 305.7,393.0 306.2,392.7 306.7,392.3 307.2,392.2 307.7,392.4 308.2,392.4 308.7,392.3 309.2,392.9 309.7,392.9 310.2,392.7 310.7,392.4 311.2,392.2 311.7,392.0 312.2,391.7 312.7,392.0 313.2,391.7 313.7,392.0 314.2,391.6 314.7,392.2 315.2,392.4 315.7,392.7 316.2,391.8 316.7,391.3 317.2,391.2 317.7,391.4 318.2,391.8 318.7,392.5 319.2,392.8 319.7,393.2 320.2,393.1 320.7,393.7 321.2,393.2 321.7,392.2 322.2,391.2 322.7,391.2 323.2,391.3 323.7,391.0 324.2,391.4 324.7,391.5 325.2,391.8 325.7,392.2 326.2,392.3 326.7,392.0 327.2,391.8 327.7,391.4 328.2,391.5 328.7,391.7 329.2,391.6 329.7,391.3 330.2,390.7 330.7,391.2 331.2,391.2 331.7,392.0 332.2,392.3 332.7,391.7 333.2,391.2 333.7,391.1 334.2,391.9 334.7,392.0 335.2,392.3 335.7,392.2 336.2,391.8 336.7,391.1 337.2,390.3 337.7,389.7 338.2,390.2 338.7,390.9 339.2,391.4 339.7,391.7 340.2,391.7 340.7,391.8 341.2,391.7 341.7,391.1 342.2,391.1 342.7,390.9 343.2,391.6 343.7,391.9 344.2,392.3 344.7,392.5 345.2,392.4 345.7,391.9 346.2,391.7 346.7,391.1 347.2,391.3 347.7,391.2 348.2,391.0 348.7,391.6 349.2,391.3 349.7,391.7 350.2,391.6 350.7,392.0 351.2,391.8 351.7,391.0 352.2,390.7 352.7,391.0 353.2,391.3 353.7,391.2 354.2,390.8 354.7,390.6 355.2,389.8 355.7,390.1 356.2,390.2 356.7,390.7 357.2,390.5 357.7,390.4 358.2,390.4 358.7,390.3 359.2,390.6 359.7,390.6 360.2,390.8 360.7,390.9 361.2,391.4 361.7,391.4 362.2,391.4 362.7,391.3 363.2,391.1 363.7,391.3 364.2,391.3 364.7,391.2 365.2,391.0 365.7,391.2 366.2,391.6 366.7,392.0 367.2,391.3 367.7,391.3 368.2,391.1 368.7,391.5 369.2,391.2 369.7,390.9 370.2,389.8 370.7,389.9 371.2,390.0 371.7,390.4 372.2,390.4 372.7,390.8 373.2,391.1 373.7,391.1 374.2,390.1 374.7,390.4 375.2,390.6 375.7,390.6 376.2,390.3 376.7,390.0 377.2,390.3 377.7,391.0 378.2,391.2 378.7,391.0 379.2,390.5 379.7,390.6 380.2,390.7 380.7,390.9 381.2,390.7 381.7,390.4 382.2,390.5 382.7,390.4 383.2,390.9 383.7,391.0 384.2,390.5 384.7,390.6 385.2,390.5 385.7,391.1 386.2,391.2 386.7,391.0 387.2,390.9 387.7,390.4 388.2,390.2 388.7,390.0 389.2,390.2 389.7,390.3 390.2,390.4 390.7,390.5 391.2,390.9 391.7,390.8 392.2,390.3 392.7,390.1 393.2,390.6 393.7,390.8 394.2,390.4 394.7,390.2 395.2,390.4 395.7,390.6 396.2,390.0 396.7,390.2 397.2,390.0 397.7,389.9 398.2,390.1 398.7,390.0 399.2,390.5 399.7,390.7 400.2,390.3 400.7,389.5 401.2,388.8 401.7,389.0 402.2,389.3 402.7,390.2 403.2,389.9 403.7,389.5 404.2,389.1 404.7,389.1 405.2,389.6 405.7,389.7 406.2,390.3 406.7,389.9 407.2,390.0 407.7,390.5 408.2,391.0 408.7,390.9 409.2,390.4 409.7,390.3 410.2,390.3 410.7,390.3 411.2,389.9 411.7,389.5 412.2,389.2 412.7,389.6 413.2,389.7 413.7,390.2 414.2,389.9 414.7,389.5 415.2,389.4 415.7,389.6 416.2,389.7 416.7,389.7 417.2,389.0 417.7,388.9 418.2,389.4 418.7,389.7 419.2,389.9 419.7,390.0 420.2,389.9 420.7,389.9 421.2,389.4 421.7,389.3 422.2,389.1 422.7,389.2 423.2,389.5 423.7,389.4 424.2,388.7 424.7,388.9 425.2,389.4 425.7,389.8 426.2,389.3 426.7,389.4 427.2,389.4 427.7,390.5 428.2,390.3 428.7,390.5 429.2,390.2 429.7,390.2 430.2,389.9 430.7,389.6 431.2,389.8 431.7,389.7 432.2,389.7 432.7,389.2 433.2,389.3 433.7,389.6 434.2,389.8 434.7,389.4 435.2,388.9 435.7,389.0 436.2,389.3 436.7,390.1 437.2,390.1 437.7,390.0 438.2,389.5 438.7,389.4 439.2,389.8 439.7,390.0 440.2,389.7 440.7,389.3 441.2,389.3 441.7,388.9 442.2,388.9 442.7,388.4 443.2,388.3 443.7,388.9 444.2,389.2 444.7,389.5 445.2,388.8 445.7,388.2 446.2,387.3 446.7,387.0 447.2,387.1 447.7,387.8 448.2,388.1 448.7,388.9 449.2,389.1 449.7,388.9 450.2,389.2 450.7,388.8 451.2,388.9 451.7,388.3 452.2,388.3 452.7,387.8 453.2,388.0 453.7,387.7 454.2,387.9 454.7,388.0 455.2,388.0 455.7,388.0 456.2,387.9 456.7,387.8 457.2,387.3 457.7,387.5 458.2,387.5 458.7,387.1 459.2,387.2 459.7,386.9 460.2,387.4 460.7,387.2 461.2,387.3 461.7,387.4 462.2,387.0 462.7,386.8 463.2,386.0 463.7,385.8 464.2,385.7 464.7,386.2 465.2,386.7 465.7,386.6 466.2,386.4 466.7,385.6 467.2,385.4 467.7,385.6 468.2,385.9 468.7,386.0 469.2,385.9 469.7,385.8 470.2,385.6 470.7,385.6 471.2,385.6 471.7,385.3 472.2,385.4 472.7,385.6 473.2,385.2 473.7,385.2 474.2,384.6 474.7,384.5 475.2,383.2 475.7,383.3 476.2,383.4 476.7,384.2 477.2,383.9 477.7,383.4 478.2,382.9 478.7,383.0 479.2,382.7 479.7,382.2 480.2,381.7 480.7,381.7 481.2,382.1 481.7,382.2 482.2,381.9 482.7,381.4 483.2,380.7 483.7,380.8 484.2,380.6 484.7,380.8 485.2,380.6 485.7,380.2 486.2,380.0 486.7,380.1 487.2,379.5 487.7,378.7 488.2,377.8 488.7,378.4 489.2,378.7 489.7,378.7 490.2,377.9 490.7,377.4 491.2,377.0 491.7,376.9 492.2,376.1 492.7,375.9 493.2,375.2 493.7,375.1 494.2,374.4 494.7,374.3 495.2,373.9 495.7,373.8 496.2,373.4 496.7,373.0 497.2,372.0 497.7,371.9 498.2,371.4 498.7,370.8 499.2,370.5 499.7,369.6 500.2,368.9 500.7,367.6 501.2,367.0 501.7,366.8 502.2,366.5 502.7,365.3 503.2,363.8 503.7,362.0 504.2,360.7 504.7,359.7 505.2,358.8 505.7,356.7 506.2,355.3 506.7,353.7 507.2,352.9 507.7,351.5 508.2,349.5 508.7,347.9 509.2,346.1 509.7,343.5M510.2,340.4 510.7,337.6 511.2,334.8 511.7,332.8M512.2,329.8 512.7,326.8M525.2,37.4 525.7,35.5M537.7,337.9 538.2,340.7M538.7,344.0 539.2,346.7 539.7,349.4 540.2,352.1 540.7,354.3 541.2,356.4 541.7,357.8 542.2,358.9 542.7,360.3 543.2,361.6 543.7,363.1 544.2,364.2 544.7,365.3 545.2,366.4 545.7,366.9 546.2,367.5 546.7,368.0 547.2,369.2 547.7,370.0 548.2,370.6 548.7,370.9 549.2,371.3 549.7,372.0 550.2,372.7 550.7,373.1 551.2,373.5 551.7,373.9 552.2,374.5 552.7,374.9 553.2,375.2 553.7,375.9 554.2,376.4 554.7,376.7 555.2,376.4 555.7,376.4 556.2,376.3 556.7,376.7 557.2,376.3 557.7,377.0 558.2,377.5 558.7,378.2 559.2,378.0 559.7,377.7 560.2,377.6 560.7,378.0 561.2,378.6 561.7,378.9 562.2,379.0 562.7,379.1 563.2,379.4 563.7,379.7 564.2,379.7 564.7,380.2 565.2,380.7 565.7,380.7 566.2,380.4 566.7,380.5 567.2,380.4 567.7,381.0 568.2,381.5 568.7,381.6 569.2,381.0 569.7,381.4 570.2,381.7 570.7,381.5 571.2,381.6 571.7,381.8 572.2,381.5 572.7,381.4 573.2,381.0 573.7,380.7 574.2,381.3 574.7,381.8 575.2,382.5 575.7,382.9 576.2,382.5 576.7,382.1 577.2,382.1 577.7,382.0 578.2,381.9 578.7,381.0 579.2,380.8 579.7,380.8 580.2,381.6 580.7,381.7 581.2,381.6 581.7,381.3 582.2,381.3 582.7,381.3 583.2,381.7 583.7,382.1 584.2,382.6 584.7,382.3 585.2,382.0 585.7,382.1 586.2,382.6 586.7,382.7 587.2,382.9 587.7,382.8 588.2,382.7 588.7,381.7 589.2,381.4 589.7,381.2 590.2,381.7 590.7,381.6 591.2,381.7 591.7,381.7 592.2,382.1 592.7,382.1 593.2,382.0 593.7,382.1 594.2,381.8 594.7,381.8 595.2,382.5 595.7,382.0 596.2,381.7 596.7,381.4 597.2,381.8 597.7,382.2 598.2,382.3 598.7,381.9 599.2,381.4 599.7,381.1 600.2,381.7 600.7,382.2 601.2,382.2 601.7,381.7 602.2,381.5 602.7,380.9 603.2,380.7 603.7,380.2 604.2,380.4 604.7,380.6 605.2,380.9 605.7,381.3 606.2,381.6 606.7,381.2 607.2,380.2 607.7,379.4 608.2,379.1 608.7,379.0 609.2,379.3 609.7,379.5 610.2,379.4 610.7,379.2 611.2,378.8 611.7,378.6 612.2,378.5 612.7,378.9 613.2,378.4 613.7,377.5 614.2,376.9 614.7,376.8 615.2,377.2 615.7,377.6 616.2,377.6 616.7,377.5 617.2,377.2 617.7,376.8 618.2,376.3 618.7,375.5 619.2,374.7 619.7,374.1 620.2,374.2 620.7,374.4 621.2,373.8 621.7,373.4 622.2,373.1 622.7,372.7 623.2,372.3 623.7,372.3 624.2,371.5 624.7,370.7 625.2,369.3 625.7,368.5 626.2,367.2 626.7,365.5M628.7,343.0 629.2,345.0M629.7,348.7 630.2,351.0 630.7,352.0 631.2,351.8 631.7,351.5 632.2,350.6 632.7,349.8 633.2,348.4 633.7,346.8 634.2,345.6 634.7,344.3 635.2,342.7 635.7,340.6 636.2,338.2 636.7,336.1 637.2,334.4 637.7,333.4 638.2,332.5 638.7,331.1 639.2,329.4 639.7,327.5 640.2,325.5 640.7,324.8 641.2,324.6 641.7,325.1 642.2,325.2 642.7,325.0 643.2,325.4 643.7,326.2 644.2,327.0 644.7,328.2 645.2,329.7 645.7,331.9 646.2,333.6 646.7,336.1 647.2,338.2 647.7,340.5 648.2,342.5 648.7,344.0 649.2,345.8 649.7,347.9 650.2,349.8 650.7,351.9 651.2,354.0 651.7,356.1 652.2,357.7 652.7,360.0 653.2,361.9 653.7,363.9 654.2,364.9 654.7,366.9 655.2,368.0 655.7,368.8 656.2,369.7 656.7,371.3 657.2,372.6 657.7,373.8 658.2,374.9 658.7,375.6 659.2,376.5 659.7,377.6 660.2,378.7 660.7,379.7 661.2,380.1 661.7,380.2 662.2,380.6 662.7,381.5 663.2,381.4 663.7,381.5 664.2,381.1 664.7,381.6 665.2,381.4 665.7,381.6 666.2,381.6 666.7,382.0 667.2,382.2 667.7,382.2 668.2,382.4 668.7,382.6 669.2,382.6 669.7,382.6 670.2,382.9 670.7,383.1 671.2,383.9 671.7,384.1 672.2,384.6 672.7,384.7 673.2,384.3 673.7,384.3 674.2,384.2 674.7,384.2 675.2,384.5 675.7,385.0 676.2,385.4 676.7,385.5 677.2,385.1 677.7,385.3 678.2,385.4 678.7,385.7 679.2,385.1 679.7,385.9 680.2,385.9 680.7,386.3 681.2,385.7 681.7,385.7 682.2,386.0 682.7,386.1 683.2,385.8 683.7,385.1 684.2,385.4 684.7,385.0 685.2,385.0 685.7,384.8 686.2,384.7 686.7,385.0 687.2,385.3 687.7,385.8 688.2,386.0 688.7,385.9 689.2,385.9 689.7,386.5 690.2,387.1 690.7,387.4 691.2,387.3 691.7,387.5 692.2,387.8 692.7,388.0 693.2,387.9 693.7,387.4 694.2,387.4 694.7,388.0 695.2,388.0 695.7,387.6 696.2,386.1 696.7,386.0 697.2,385.5 697.7,386.7 698.2,387.0 698.7,387.4 699.2,387.4 699.7,387.8 700.2,387.7 700.7,388.0 701.2,387.9 701.7,387.8 702.2,387.6 702.7,387.4 703.2,387.2 703.7,387.7 704.2,387.9 704.7,387.9 705.2,387.9 705.7,387.8 706.2,387.2 706.7,387.1 707.2,387.1 707.7,387.1 708.2,387.3 708.7,387.2 709.2,387.4 709.7,387.7 710.2,388.2 710.7,388.4 711.2,388.8 711.7,388.0 712.2,387.8 712.7,387.5 713.2,388.2 713.7,388.5 714.2,388.5 714.7,388.1 715.2,388.0 715.7,388.4 716.2,388.2 716.7,388.4 717.2,388.1 717.7,388.7 718.2,388.7 718.7,388.4 719.2,387.9 719.7,387.9 720.2,388.0 720.7,388.1 721.2,388.1 721.7,388.2 722.2,388.2 722.7,388.2 723.2,387.1 723.7,386.8 724.2,386.6 724.7,387.1 725.2,387.2 725.7,388.0 726.2,388.1 726.7,388.1 727.2,388.0 727.7,388.2 728.2,388.3 728.7,388.4 729.2,388.1 729.7,388.3 730.2,387.7 730.7,387.9 731.2,386.8 731.7,387.4 732.2,387.4 732.7,388.3 733.2,388.0 733.7,388.9 734.2,388.5 734.7,389.3 735.2,389.0 735.7,389.1 736.2,389.3 736.7,389.5 737.2,389.0 737.7,388.2 738.2,388.5 738.7,388.4 739.2,388.0 739.7,388.3 740.2,388.1 740.7,388.4 741.2,388.5 741.7,388.4 742.2,388.6 742.7,388.2 743.2,388.4 743.7,388.5 744.2,388.9 744.7,389.3 745.2,388.8 745.7,388.3 746.2,388.2 746.7,388.2 747.2,388.6 747.7,388.7 748.2,388.7 748.7,388.7 749.2,388.7 749.7,389.0 750.2,389.1 750.7,388.7 751.2,388.9 751.7,389.1 752.2,389.5 752.7,389.4 753.2,388.7 753.7,388.4 754.2,387.9 754.7,388.1 755.2,388.7 755.7,389.2 756.2,389.2 756.7,388.7 757.2,388.4 757.7,388.7 758.2,388.8 758.7,389.2 759.2,389.3 759.7,389.5 760.2,389.5 760.7,389.5 761.2,389.1 761.7,389.2 762.2,389.1 762.7,389.4 763.2,389.7 763.7,389.4 764.2,389.2 764.7,389.7 765.2,389.9 765.7,389.9 766.2,389.5 766.7,389.2 767.2,389.0 767.7,389.0 768.2,389.4 768.7,389.0 769.2,389.0 769.7,389.2 770.2,389.9 770.7,389.7 771.2,389.3 771.7,389.3 772.2,389.3 772.7,389.3 773.2,388.8 773.7,389.1 774.2,388.8 774.7,388.9 775.2,389.1 775.7,389.7 776.2,390.1 776.7,389.7 777.2,389.5 777.7,389.1 778.2,389.3 778.7,389.1 779.2,388.7 779.7,388.7 780.2,388.8 780.7,388.5 781.2,388.7 781.7,388.8 782.2,388.5 782.7,388.8 783.2,389.0 783.7,389.4 784.2,389.1 784.7,389.7 785.2,389.9 785.7,390.2 786.2,390.2 786.7,389.7 787.2,389.1 787.7,388.2 788.2,388.1 788.7,388.4 789.2,388.8 789.7,389.1 790.2,388.4 790.7,388.4 791.2,388.3 791.7,388.6 792.2,389.7 792.7,390.0 793.2,390.4 793.7,389.8 794.2,389.2 794.7,388.8 795.2,389.5 795.7,389.2 796.2,389.1 796.7,389.3 797.2,389.2 797.7,389.1 798.2,389.1 798.7,389.3 799.2,389.5 799.7,389.6 800.2,389.3 800.7,389.3 801.2,389.7 801.7,389.8 802.2,389.9 802.7,389.3 803.2,389.3 803.7,388.9 804.2,389.4 804.7,388.9 805.2,389.1 805.7,389.0 806.2,389.3 806.7,389.2 807.2,388.6 807.7,388.7 808.2,388.6 808.7,389.2 809.2,388.8 809.7,388.7 810.2,389.0 810.7,390.0 811.2,390.4 811.7,390.1 812.2,389.5 812.7,389.5 813.2,389.7 813.7,389.1 814.2,388.8 814.7,388.6 815.2,388.8 815.7,389.6 816.2,389.8 816.7,390.0 817.2,390.1 817.7,390.2 818.2,390.1 818.7,389.5 819.2,389.1 819.7,388.9 820.2,389.1 820.7,388.7 821.2,388.5 821.7,388.8 822.2,389.3 822.7,389.7 823.2,389.6 823.7,389.0 824.2,388.6 824.7,388.5 825.2,388.5 825.7,388.9 826.2,389.0 826.7,388.8 827.2,388.4 827.7,388.4 828.2,389.1 828.7,389.1 829.2,389.5 829.7,389.2 830.2,389.0 830.7,388.6 831.2,388.7 831.7,388.6 832.2,388.8 832.7,388.8 833.2,388.7 833.7,388.6 834.2,388.5 834.7,388.3 835.2,388.3 835.7,388.1 836.2,388.0 836.7,388.3 837.2,388.3 837.7,388.3 838.2,388.2 838.7,389.0 839.2,389.4 839.7,389.4 840.2,389.1 840.7,388.5 841.2,388.8 841.7,388.9 842.2,389.7 842.7,389.1 843.2,388.9 843.7,388.0 844.2,388.1 844.7,388.5 845.2,389.1 845.7,389.1 846.2,389.0 846.7,388.4 847.2,389.0 847.7,389.1 848.2,390.0 848.7,390.2 849.2,389.9 849.7,389.7 850.2,389.2 850.7,390.0 851.2,389.5 851.7,389.4 852.2,388.6 852.7,388.4 853.2,388.1 853.7,388.5 854.2,388.8 854.7,389.3 855.2,389.6 855.7,389.4 856.2,389.4 856.7,389.3 857.2,389.7 857.7,389.0 858.2,388.8 858.7,387.9 859.2,388.1 859.7,388.8 860.2,389.6 860.7,390.5 861.2,390.0 861.7,388.7 862.2,388.3 862.7,388.7 863.2,389.6 863.7,389.5 864.2,388.9 864.7,387.8 865.2,387.3 865.7,386.8 866.2,387.5 866.7,388.2 867.2,388.6 867.7,388.5 868.2,388.9 868.7,389.2 869.2,389.1 869.7,388.9 870.2,389.0 870.7,388.9 871.2,388.7 871.7,388.3 872.2,388.2 872.7,388.5 873.2,388.7 873.7,389.4 874.2,389.7 874.7,390.0 875.2,390.3 875.7,390.2 876.2,389.8 876.7,389.4 877.2,389.1 877.7,389.3 878.2,388.5 878.7,388.2 879.2,388.0 879.7,388.6 880.2,388.8 880.7,388.8 881.2,388.3 881.7,388.0 882.2,388.4 882.7,388.8 883.2,388.8 883.7,388.8 884.2,389.0 884.7,389.0 885.2,388.4 885.7,387.8 886.2,387.7 886.7,387.8 887.2,387.7 887.7,388.3 888.2,388.2 888.7,388.6 889.2,388.7 889.7,388.7 890.2,388.9 890.7,388.4 891.2,388.4 891.7,388.5 892.2,388.7 892.7,388.5 893.2,388.3 893.7,388.9 894.2,389.2 894.7,389.5 895.2,388.8 895.7,388.4 896.2,387.9 896.7,387.8 897.2,388.1 897.7,388.3 898.2,387.9 898.7,387.9 899.2,387.8 899.7,388.6 900.2,388.3 900.7,388.5 901.2,388.0 901.7,387.9 902.2,387.5 902.7,387.3 903.2,387.7 903.7,387.9 904.2,387.5 904.7,387.7 905.2,387.6 905.7,387.5 906.2,387.6 906.7,387.5 907.2,388.1 907.7,388.4 908.2,388.2 908.7,388.5 909.2,388.8 909.7,388.5 910.2,388.1 910.7,387.9 911.2,388.2 911.7,388.2 912.2,388.4 912.7,388.0 913.2,388.5 913.7,388.3 914.2,388.3 914.7,387.7 915.2,387.4 915.7,387.4 916.2,387.6 916.7,388.1 917.2,388.6 917.7,388.8 918.2,388.5 918.7,388.2 919.2,388.2 919.7,388.6 920.2,388.7 920.7,388.3 921.2,388.1 921.7,388.0 922.2,388.0 922.7,388.0 923.2,387.2 923.7,387.4 924.2,387.2 924.7,387.1 925.2,387.8 925.7,387.9 926.2,388.3 926.7,388.1 927.2,388.8 927.7,388.6 928.2,388.6 928.7,388.9 929.2,389.0 929.7,388.8 930.2,388.6 930.7,387.8 931.2,388.4 931.7,388.2 932.2,388.4 932.7,388.3 933.2,388.1 933.7,388.2 934.2,388.3 934.7,388.1 935.2,387.7 935.7,386.9 936.2,386.9 936.7,387.4 937.2,388.5 937.7,389.5 938.2,388.8 938.7,388.3 939.2,388.0 939.7,388.2 940.2,388.1 940.7,387.7 941.2,388.1 941.7,387.7 942.2,387.5 942.7,386.7 943.2,386.5 943.7,387.0 944.2,386.9 944.7,387.5 945.2,387.7 945.7,387.8 946.2,387.9 946.7,387.8 947.2,387.7 947.7,387.7 948.2,388.2 948.7,389.0 949.2,388.7 949.7,388.2 950.2,387.6 950.7,387.2 951.2,387.3 951.7,387.3 952.2,387.2 952.7,386.4 953.2,386.0 953.7,386.8 954.2,387.8 954.7,388.4 955.2,388.0 955.7,387.0 956.2,386.7 956.7,386.4 957.2,386.3 957.7,386.2 958.2,386.2 958.7,386.7 959.2,387.0 959.7,387.2 960.2,387.5 960.7,387.8 961.2,387.4 961.7,386.9 962.2,386.8 962.7,386.3 963.2,386.6 963.7,386.2 964.2,386.5 964.7,386.8 965.2,387.3 965.7,387.0 966.2,387.0 966.7,386.7 967.2,386.3 967.7,386.4 968.2,385.8 968.7,385.5 969.2,385.6 969.7,385.9 970.2,386.5 970.7,386.5 971.2,386.9 971.7,386.5 972.2,386.1 972.7,385.6 973.2,385.4 973.7,384.8 974.2,384.7 974.7,385.3 975.2,386.1 975.7,386.3 976.2,386.0 976.7,385.5 977.2,384.8 977.7,385.1 978.2,385.1 978.7,385.9 979.2,386.0 979.7,386.1 980.2,386.1 980.7,386.2 981.2,386.0 981.7,385.7 982.2,385.3 982.7,385.3 983.2,385.9 983.7,386.4 984.2,386.4 984.7,385.9 985.2,385.8 985.7,385.4 986.2,385.4 986.7,385.4 987.2,385.8 987.7,386.5 988.2,386.3 988.7,386.0 989.2,385.1 989.7,384.9 990.2,384.9 990.7,385.2 991.2,385.1 991.7,385.4 992.2,385.2 992.7,385.5 993.2,385.2 993.7,384.6 994.2,384.8 994.7,384.6 995.2,384.8 995.7,384.5 996.2,384.2 996.7,383.6 997.2,382.6 997.7,382.6 998.2,383.3 998.7,383.8 999.2,383.9 999.7,383.5 1000.2,382.8 1000.7,382.6 1001.2,382.1 1001.7,381.8 1002.2,380.9 1002.7,379.8 1003.2,377.1M1004.2,366.4 1004.7,365.9M1005.7,374.8 1006.2,375.4 1006.7,374.5 1007.2,371.8 1007.7,371.7M1008.2,375.0 1008.7,377.0 1009.2,377.7 1009.7,378.1 1010.2,378.3 1010.7,377.7 1011.2,377.0 1011.7,376.0 1012.2,376.1 1012.7,375.4 1013.2,374.8 1013.7,373.0 1014.2,372.6 1014.7,371.8 1015.2,371.1 1015.7,370.1 1016.2,369.3 1016.7,368.4 1017.2,367.1 1017.7,365.8 1018.2,364.5 1018.7,363.2 1019.2,361.9 1019.7,360.5 1020.2,359.1 1020.7,358.6 1021.2,356.9 1021.7,356.2 1022.2,354.9 1022.7,354.5 1023.2,353.7 1023.7,353.3 1024.2,352.8 1024.7,352.8 1025.2,353.4 1025.7,354.1 1026.2,354.3 1026.7,354.4 1027.2,354.7 1027.7,355.6 1028.2,356.7 1028.7,357.7 1029.2,359.1 1029.7,360.1 1030.2,361.2 1030.7,362.1 1031.2,363.3 1031.7,364.8 1032.2,366.0 1032.7,367.0 1033.2,367.7 1033.7,368.6 1034.2,369.8 1034.7,370.8 1035.2,372.5 1035.7,373.4 1036.2,374.3 1036.7,374.9 1037.2,376.2 1037.7,377.0 1038.2,378.1 1038.7,378.2 1039.2,378.3 1039.7,378.9 1040.2,379.2 1040.7,379.7 1041.2,380.2 1041.7,380.9 1042.2,381.5 1042.7,382.0 1043.2,382.0 1043.7,381.7 1044.2,381.6 1044.7,382.2 1045.2,383.2 1045.7,383.8 1046.2,384.1 1046.7,383.4 1047.2,383.5 1047.7,383.5 1048.2,383.7 1048.7,383.9 1049.2,383.9 1049.7,384.0 1050.2,384.2 1050.7,384.9 1051.2,385.3 1051.7,385.4 1052.2,384.7 1052.7,384.3 1053.2,384.4 1053.7,384.5 1054.2,385.1 1054.7,384.7 1055.2,384.8 1055.7,384.5 1056.2,385.0 1056.7,385.4 1057.2,385.9 1057.7,385.3 1058.2,385.0 1058.7,384.2 1059.2,384.4 1059.7,384.7 1060.2,385.3 1060.7,385.6 1061.2,385.7 1061.7,385.2 1062.2,385.7 1062.7,385.7 1063.2,386.6 1063.7,386.3 1064.2,386.2 1064.7,386.0 1065.2,385.9 1065.7,385.9 1066.2,386.0 1066.7,386.4 1067.2,386.5 1067.7,386.7 1068.2,386.4 1068.7,386.8 1069.2,386.8 1069.7,387.5 1070.2,386.7 1070.7,386.7 1071.2,386.8 1071.7,386.7 1072.2,385.9 1072.7,385.2 1073.2,385.1 1073.7,385.4 1074.2,385.9 1074.7,386.5 1075.2,387.0 1075.7,387.2 1076.2,386.9 1076.7,387.2 1077.2,387.4 1077.7,387.4 1078.2,386.9 1078.7,386.8 1079.2,387.1 1079.7,387.6 1080.2,387.6 1080.7,388.0 1081.2,387.7 1081.7,386.9 1082.2,386.1 1082.7,386.2 1083.2,386.3 1083.7,386.9 1084.2,387.0 1084.7,388.1 1085.2,387.9 1085.7,387.0 1086.2,386.2 1086.7,386.6 1087.2,387.3 1087.7,387.8 1088.2,387.4 1088.7,386.9 1089.2,386.4 1089.7,387.0 1090.2,387.3 1090.7,387.2 1091.2,387.2 1091.7,387.0 1092.2,386.8 1092.7,386.5 1093.2,386.8 1093.7,386.7 1094.2,387.3 1094.7,386.9 1095.2,387.2 1095.7,386.9 1096.2,387.2 1096.7,387.1 1097.2,387.0 1097.7,386.5 1098.2,386.2 1098.7,386.4 1099.2,386.4 1099.7,386.1 1100.2,386.2 1100.7,386.1 1101.2,386.7 1101.7,387.2 1102.2,387.7 1102.7,388.4 1103.2,388.0 1103.7,387.8 1104.2,387.5 1104.7,387.3 1105.2,387.3 1105.7,387.4 1106.2,387.2 1106.7,386.2 1107.2,386.5 1107.7,386.7 1108.2,387.1 1108.7,387.6 1109.2,387.4 1109.7,387.5 1110.2,387.1 1110.7,387.1 1111.2,387.3 1111.7,386.9 1112.2,386.8 1112.7,386.5 1113.2,386.8 1113.7,387.3 1114.2,387.2 1114.7,387.0 1115.2,387.1 1115.7,387.8 1116.2,387.3 1116.7,387.1 1117.2,387.0 1117.7,387.0 1118.2,387.3 1118.7,387.7 1119.2,388.0 1119.7,387.8 1120.2,387.9 1120.7,387.5 1121.2,387.3 1121.7,387.2 1122.2,387.3 1122.7,387.4 1123.2,387.4 1123.7,387.1 1124.2,387.1 1124.7,386.9 1125.2,387.0 1125.7,387.3 1126.2,387.9 1126.7,388.1 1127.2,388.4 1127.7,388.2 1128.2,387.6 1128.7,387.1 1129.2,387.0 1129.7,387.6 1130.2,387.9 1130.7,388.1 1131.2,387.5 1131.7,388.1 1132.2,388.4 1132.7,388.8 1133.2,387.9 1133.7,387.2 1134.2,386.4 1134.7,386.3 1135.2,386.2 1135.7,386.2 1136.2,386.3 1136.7,386.4 1137.2,387.0 1137.7,387.5 1138.2,387.9 1138.7,387.9 1139.2,388.0 1139.7,387.7 1140.2,386.9 1140.7,386.6 1141.2,386.4 1141.7,386.7 1142.2,387.2 1142.7,387.8 1143.2,388.5 1143.7,388.6 1144.2,388.1 1144.7,387.6 1145.2,387.4 1145.7,387.4 1146.2,387.5 1146.7,387.3 1147.2,387.6 1147.7,387.7 1148.2,388.3 1148.7,388.5 1149.2,388.3 1149.7,387.3 1150.2,386.5 1150.7,386.1 1151.2,386.2 1151.7,386.0 1152.2,386.1 1152.7,386.5 1153.2,387.0 1153.7,387.8 1154.2,388.2 1154.7,387.6 1155.2,387.3 1155.7,386.6 1156.2,386.8 1156.7,386.4 1157.2,386.4 1157.7,386.3 1158.2,386.9 1158.7,386.4 1159.2,386.6 1159.7,386.9 1160.2,387.3 1160.7,387.3 1161.2,387.2 1161.7,387.0 1162.2,387.2 1162.7,387.2 1163.2,387.0 1163.7,387.6 1164.2,387.2 1164.7,387.2 1165.2,386.3 1165.7,386.2 1166.2,386.4 1166.7,386.6 1167.2,387.0 1167.7,386.4 1168.2,386.7 1168.7,386.6 1169.2,387.1 1169.7,387.3 1170.2,387.4 1170.7,388.0 1171.2,387.5 1171.7,387.4 1172.2,386.6 1172.7,386.8 1173.2,386.8 1173.7,386.9 1174.2,386.3 1174.7,385.8 1175.2,385.1 1175.7,385.7 1176.2,386.1 1176.7,387.0 1177.2,387.7 1177.7,388.3 1178.2,388.0 1178.7,387.9 1179.2,387.7 1179.7,387.5 1180.2,387.3 1180.7,386.9 1181.2,387.0 1181.7,387.4 1182.2,388.0 1182.7,387.8 1183.2,387.6 1183.7,386.8 1184.2,387.0 1184.7,386.9 1185.2,386.6 1185.7,385.7 1186.2,385.2 1186.7,385.4 1187.2,386.4 1187.7,387.4 1188.2,387.1 1188.7,386.5 1189.2,386.6 1189.7,386.5 1190.2,386.5 1190.7,386.2 1191.2,386.0 1191.7,386.3 1192.2,386.9 1192.7,387.0 1193.2,387.2 1193.7,386.7 1194.2,387.0 1194.7,386.9 1195.2,387.1 1195.7,387.2 1196.2,387.0 1196.7,387.0 1197.2,387.1 1197.7,387.3 1198.2,387.5 1198.7,387.4 1199.2,387.3 1199.7,387.1 1200.2,387.6 1200.7,387.0 1201.2,386.5 1201.7,385.7 1202.2,385.2 1202.7,385.6 1203.2,386.2 1203.7,386.7 1204.2,386.9 1204.7,387.2 1205.2,387.2 1205.7,387.1 1206.2,386.7 1206.7,386.4 1207.2,386.2 1207.7,386.1 1208.2,386.5 1208.7,386.0 1209.2,386.0 1209.7,385.9 1210.2,385.5 1210.7,386.1 1211.2,386.0 1211.7,386.1 1212.2,385.8 1212.7,385.5 1213.2,386.0 1213.7,386.4 1214.2,386.6 1214.7,386.3 1215.2,385.9 1215.7,386.5 1216.2,386.7 1216.7,386.7 1217.2,386.4 1217.7,386.0 1218.2,386.4 1218.7,386.5 1219.2,387.1 1219.7,386.2 1220.2,385.8 1220.7,385.8 1221.2,386.0 1221.7,385.6 1222.2,385.2 1222.7,385.9 1223.2,386.0 1223.7,385.9 1224.2,385.7 1224.7,385.3 1225.2,385.3 1225.7,385.8 1226.2,385.7 1226.7,386.0 1227.2,385.9 1227.7,385.9 1228.2,385.5 1228.7,384.9 1229.2,385.4 1229.7,385.5 1230.2,386.1 1230.7,386.0 1231.2,385.9 1231.7,385.1 1232.2,384.6 1232.7,384.8 1233.2,385.2 1233.7,385.3 1234.2,385.4 1234.7,385.9 1235.2,385.7 1235.7,385.7 1236.2,385.1 1236.7,384.4 1237.2,384.4 1237.7,384.6 1238.2,384.7 1238.7,384.3 1239.2,384.0 1239.7,383.9 1240.2,384.1 1240.7,384.4 1241.2,384.8 1241.7,385.4 1242.2,385.1 1242.7,384.9 1243.2,385.1 1243.7,385.5 1244.2,385.2 1244.7,384.5 1245.2,383.7 1245.7,383.5 1246.2,383.7 1246.7,383.8 1247.2,383.5 1247.7,383.3 1248.2,383.3 1248.7,382.9 1249.2,383.1 1249.7,383.7 1250.2,384.2 1250.7,384.4 1251.2,384.4 1251.7,384.0 1252.2,383.2 1252.7,382.2 1253.2,381.5 1253.7,379.8 1254.2,377.4M1254.7,374.2 1255.2,371.4M1255.7,367.7 1256.2,365.0" fill="none" stroke="#161616" stroke-width="2.4" stroke-linejoin="round" stroke-linecap="round"/>
<path d="M509.7,343.5 510.2,340.4M511.7,332.8 512.2,329.8M512.7,326.8 513.2,322.8 513.7,318.2 514.2,313.5 514.7,308.7 515.2,303.0 515.7,296.7 516.2,289.3 516.7,282.0 517.2,273.0 517.7,263.5 518.2,253.8 518.7,243.2 519.2,231.0 519.7,216.7 520.2,201.2 520.7,185.1 521.2,166.8 521.7,147.4 522.2,127.3 522.7,107.6 523.2,88.8 523.7,70.7 524.2,55.4 524.7,43.8 525.2,37.4M525.7,35.5 526.2,40.9 526.7,52.5 527.2,69.8 527.7,90.8 528.2,114.3 528.7,138.1 529.2,160.5 529.7,181.6 530.2,201.4 530.7,220.0 531.2,236.4 531.7,250.9 532.2,263.8 532.7,275.1 533.2,285.7 533.7,294.7 534.2,302.8 534.7,309.9 535.2,316.2 535.7,321.6 536.2,326.3 536.7,331.0 537.2,334.5 537.7,337.9M538.2,340.7 538.7,344.0M626.7,365.5 627.2,362.3 627.7,356.4 628.2,346.6 628.7,343.0M629.2,345.0 629.7,348.7M1003.2,377.1 1003.7,373.1 1004.2,366.4M1004.7,365.9 1005.2,371.3 1005.7,374.8M1007.7,371.7 1008.2,375.0M1254.2,377.4 1254.7,374.2M1255.2,371.4 1255.7,367.7M1256.2,365.0 1256.7,362.0" fill="none" stroke="#383838" stroke-width="1.6" stroke-linejoin="round"/>
<line x1="528.3" y1="21.0" x2="526.8" y2="531.0" stroke="#f4acb4" stroke-width="3.2"/>
<line x1="528.3" y1="21.0" x2="526.8" y2="531.0" stroke="#e66a7a" stroke-width="2" stroke-dasharray="1.6,2.0"/>
<line x1="651.2" y1="352.0" x2="650.9" y2="537.0" stroke="#f4acb4" stroke-width="3.2"/>
<line x1="651.2" y1="352.0" x2="650.9" y2="537.0" stroke="#e66a7a" stroke-width="2" stroke-dasharray="1.6,2.0"/>
<line x1="1026.6" y1="358.0" x2="1028.4" y2="558.6" stroke="#f4acb4" stroke-width="3.2"/>
<line x1="1026.6" y1="358.0" x2="1028.4" y2="558.6" stroke="#e66a7a" stroke-width="2" stroke-dasharray="1.6,2.0"/>
<rect x="144.5" y="20.2" width="1113.6" height="560.8" fill="none" stroke="#141414" stroke-width="2.7"/>
<path d="M144.5,581.0v-11.0 M224.0,581.0v-6.5 M303.6,581.0v-11.0 M383.1,581.0v-6.5 M462.7,581.0v-11.0 M542.2,581.0v-6.5 M621.8,581.0v-11.0 M701.3,581.0v-6.5 M780.8,581.0v-11.0 M860.4,581.0v-6.5 M939.9,581.0v-11.0 M1019.5,581.0v-6.5 M1099.0,581.0v-11.0 M1178.6,581.0v-6.5 M1258.1,581.0v-11.0 M144.5,20.2v11.0 M255.9,20.2v6.5 M367.2,20.2v11.0 M478.6,20.2v6.5 M589.9,20.2v11.0 M701.3,20.2v6.5 M812.7,20.2v11.0 M924.0,20.2v6.5 M1035.4,20.2v11.0 M1146.7,20.2v6.5 M1258.1,20.2v11.0 M144.5,568.5h11.0 M144.5,538.0h6.5 M144.5,507.6h11.0 M144.5,477.1h6.5 M144.5,446.7h11.0 M144.5,416.2h6.5 M144.5,385.7h11.0 M144.5,355.3h6.5 M144.5,324.8h11.0 M144.5,294.4h6.5 M144.5,263.9h11.0 M144.5,233.4h6.5 M144.5,203.0h11.0 M144.5,172.5h6.5 M144.5,142.0h11.0 M144.5,111.6h6.5 M144.5,81.1h11.0 M144.5,50.7h6.5 M144.5,20.2h11.0 M1258.1,20.2h-11.5 M1258.1,76.3h-7.0 M1258.1,132.4h-11.5 M1258.1,188.4h-7.0 M1258.1,244.5h-11.5 M1258.1,300.6h-7.0 M1258.1,356.7h-11.5 M1258.1,412.8h-7.0 M1258.1,468.8h-11.5 M1258.1,524.9h-7.0 M1258.1,581.0h-11.5" stroke="#111" stroke-width="2.2" fill="none"/>
<text transform="translate(132,579.1) scale(1,1.07)" font-family="Liberation Serif" font-weight="bold" font-size="34" text-anchor="end" fill="#111">0</text>
<text transform="translate(132,518.2) scale(1,1.07)" font-family="Liberation Serif" font-weight="bold" font-size="34" text-anchor="end" fill="#111">5000</text>
<text transform="translate(132,457.3) scale(1,1.07)" font-family="Liberation Serif" font-weight="bold" font-size="34" text-anchor="end" fill="#111">10000</text>
<text transform="translate(132,396.3) scale(1,1.07)" font-family="Liberation Serif" font-weight="bold" font-size="34" text-anchor="end" fill="#111">15000</text>
<text transform="translate(132,335.4) scale(1,1.07)" font-family="Liberation Serif" font-weight="bold" font-size="34" text-anchor="end" fill="#111">20000</text>
<text transform="translate(132,274.5) scale(1,1.07)" font-family="Liberation Serif" font-weight="bold" font-size="34" text-anchor="end" fill="#111">25000</text>
<text transform="translate(132,213.6) scale(1,1.07)" font-family="Liberation Serif" font-weight="bold" font-size="34" text-anchor="end" fill="#111">30000</text>
<text transform="translate(132,152.6) scale(1,1.07)" font-family="Liberation Serif" font-weight="bold" font-size="34" text-anchor="end" fill="#111">35000</text>
<text transform="translate(132,91.7) scale(1,1.07)" font-family="Liberation Serif" font-weight="bold" font-size="34" text-anchor="end" fill="#111">40000</text>
<text transform="translate(132,30.8) scale(1,1.07)" font-family="Liberation Serif" font-weight="bold" font-size="34" text-anchor="end" fill="#111">45000</text>
<text transform="translate(144.5,611) scale(1,1.07)" font-family="Liberation Serif" font-weight="bold" font-size="34" text-anchor="middle" fill="#111">20</text>
<text transform="translate(303.6,611) scale(1,1.07)" font-family="Liberation Serif" font-weight="bold" font-size="34" text-anchor="middle" fill="#111">30</text>
<text transform="translate(462.7,611) scale(1,1.07)" font-family="Liberation Serif" font-weight="bold" font-size="34" text-anchor="middle" fill="#111">40</text>
<text transform="translate(621.8,611) scale(1,1.07)" font-family="Liberation Serif" font-weight="bold" font-size="34" text-anchor="middle" fill="#111">50</text>
<text transform="translate(780.8,611) scale(1,1.07)" font-family="Liberation Serif" font-weight="bold" font-size="34" text-anchor="middle" fill="#111">60</text>
<text transform="translate(939.9,611) scale(1,1.07)" font-family="Liberation Serif" font-weight="bold" font-size="34" text-anchor="middle" fill="#111">70</text>
<text transform="translate(1099.0,611) scale(1,1.07)" font-family="Liberation Serif" font-weight="bold" font-size="34" text-anchor="middle" fill="#111">80</text>
<text transform="translate(1258.1,611) scale(1,1.07)" font-family="Liberation Serif" font-weight="bold" font-size="34" text-anchor="middle" fill="#111">90</text>
<text transform="translate(713,650.3) scale(1,1.04)" font-family="Liberation Serif" font-weight="bold" font-size="35" text-anchor="middle" fill="#111">2Theta (Degree)</text>
<text transform="translate(29.2,307.4) rotate(-90) scale(0.99,1)" font-family="Liberation Serif" font-weight="bold" font-size="36" text-anchor="middle" fill="#111">Intensity (arb. units)</text>
<text x="1020.5" y="66.5" font-family="Liberation Serif" font-weight="bold" font-size="35.4" fill="#111">* Ni(+Ir)</text>
<text x="1020.5" y="110.3" font-family="Liberation Serif" font-weight="bold" font-size="34.4" fill="#111"># Cu</text>
<text x="204" y="374.4" font-family="Liberation Serif" font-weight="bold" font-size="27" fill="#111">(d) 15%Ir</text>
<text x="212.5" y="440.5" font-family="Liberation Serif" font-weight="bold" font-size="27" fill="#111">(c) 10%Ir</text>
<text x="214.5" y="504.4" font-family="Liberation Serif" font-weight="bold" font-size="27" fill="#111">(b) 5%Ir</text>
<text x="216.5" y="561.6" font-family="Liberation Serif" font-weight="bold" font-size="27" fill="#111">(a) Ni</text>
<text x="541" y="555" font-family="Liberation Serif" font-weight="bold" font-size="17" fill="#222">Int-f 999</text>
<text x="664" y="560" font-family="Liberation Serif" font-weight="bold" font-size="17" fill="#222">Int-f 420</text>
<text x="1034" y="560.5" font-family="Liberation Serif" font-weight="bold" font-size="17" fill="#222">Int-f 161</text>
<text transform="translate(557.0,118.1) rotate(-90) scale(1.090,1)" font-family="Liberation Serif" font-weight="bold" font-size="27" fill="#111">*(111)</text>
<text transform="translate(615.0,335.0) rotate(-90) scale(1.034,1)" font-family="Liberation Serif" font-weight="bold" font-size="27" fill="#111">#(200)</text>
<text transform="translate(654.4,321.6) rotate(-90) scale(1.070,1)" font-family="Liberation Serif" font-weight="bold" font-size="27" fill="#111">%(200)</text>
<text transform="translate(997.5,359.3) rotate(-90) scale(1.000,1)" font-family="Liberation Serif" font-weight="bold" font-size="27" fill="#111">#(220)</text>
<text transform="translate(1041.0,344.0) rotate(-90) scale(1.000,1)" font-family="Liberation Serif" font-weight="bold" font-size="27" fill="#111">*(220)</text>
</svg>
</body></html>
